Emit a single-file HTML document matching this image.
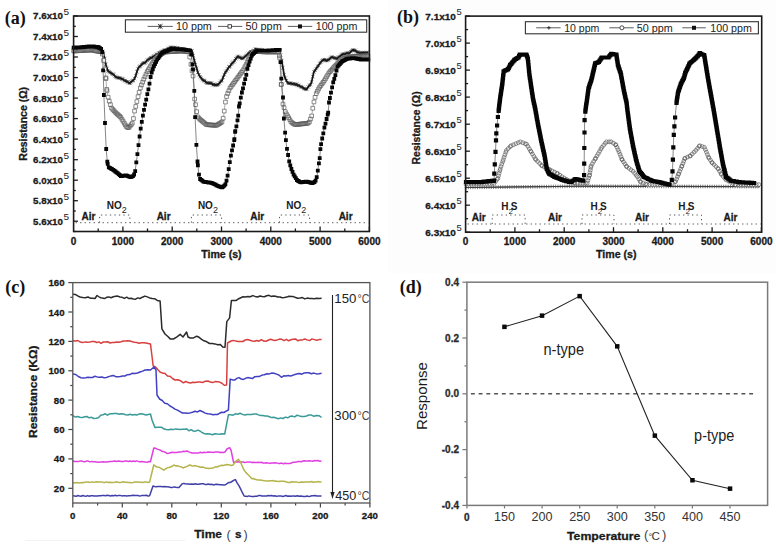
<!DOCTYPE html>
<html><head><meta charset="utf-8"><title>Figure</title>
<style>html,body{margin:0;padding:0;background:#fff;width:776px;height:547px;overflow:hidden}svg{display:block}</style>
</head><body>
<svg width="776" height="547" viewBox="0 0 776 547">
<rect width="776" height="547" fill="#fff"/>
<path d="M25 540.5H185" stroke="#f3f3f3" stroke-width="1"/>
<rect x="388" y="0" width="388" height="273" fill="#fdfdfd"/>
<rect x="465.6" y="16.1" width="296.1" height="216.1" fill="#fff"/>
<g stroke="#1a1a1a" stroke-width="1.3" fill="none">
<path d="M465.6 16.1H469.9"/>
<path d="M465.6 43.1H469.9"/>
<path d="M465.6 70.1H469.9"/>
<path d="M465.6 97.1H469.9"/>
<path d="M465.6 124.2H469.9"/>
<path d="M465.6 151.2H469.9"/>
<path d="M465.6 178.2H469.9"/>
<path d="M465.6 205.2H469.9"/>
<path d="M465.6 232.2H469.9"/>
<path d="M465.6 29.6H468.1"/>
<path d="M465.6 56.6H468.1"/>
<path d="M465.6 83.6H468.1"/>
<path d="M465.6 110.6H468.1"/>
<path d="M465.6 137.7H468.1"/>
<path d="M465.6 164.7H468.1"/>
<path d="M465.6 191.7H468.1"/>
<path d="M465.6 218.7H468.1"/>
<path d="M514.9 232.2V227.2"/>
<path d="M490.2 232.2V229.2"/>
<path d="M564.2 232.2V227.2"/>
<path d="M539.5 232.2V229.2"/>
<path d="M613.5 232.2V227.2"/>
<path d="M588.9 232.2V229.2"/>
<path d="M662.8 232.2V227.2"/>
<path d="M638.1 232.2V229.2"/>
<path d="M712.1 232.2V227.2"/>
<path d="M687.5 232.2V229.2"/>
<path d="M761.4 232.2V227.2"/>
<path d="M736.8 232.2V229.2"/>
</g>
<g stroke="#555" stroke-width="1" fill="none" stroke-dasharray="1.3 3.2">
<path d="M467.6 224H760.7"/>
<path d="M492.2 224V215H525.1V224"/>
<path d="M582 224V215H614V224"/>
<path d="M669.5 224V215H701.5V224"/>
</g>
<polyline points="466,187.5 580,186.2 760,186.6" fill="none" stroke="#2a2a2a" stroke-width="1.1" />
<path d="M466 185.7v3.6M464.7 187.5h2.6M468.3 185.7v3.6M467 187.5h2.6M470.6 185.6v3.6M469.3 187.4h2.6M472.9 185.6v3.6M471.6 187.4h2.6M475.2 185.6v3.6M473.9 187.4h2.6M477.5 185.6v3.6M476.2 187.4h2.6M479.8 185.5v3.6M478.5 187.3h2.6M482.1 185.5v3.6M480.8 187.3h2.6M484.4 185.5v3.6M483.1 187.3h2.6M486.7 185.5v3.6M485.4 187.3h2.6M489 185.4v3.6M487.7 187.2h2.6M491.3 185.4v3.6M490 187.2h2.6M493.6 185.4v3.6M492.3 187.2h2.6M495.9 185.4v3.6M494.6 187.2h2.6M498.2 185.3v3.6M496.9 187.1h2.6M500.5 185.3v3.6M499.2 187.1h2.6M502.8 185.3v3.6M501.5 187.1h2.6M505.1 185.3v3.6M503.8 187.1h2.6M507.4 185.2v3.6M506.1 187h2.6M509.7 185.2v3.6M508.4 187h2.6M512 185.2v3.6M510.7 187h2.6M514.3 185.1v3.6M513 186.9h2.6M516.6 185.1v3.6M515.3 186.9h2.6M518.9 185.1v3.6M517.6 186.9h2.6M521.2 185.1v3.6M519.9 186.9h2.6M523.5 185v3.6M522.2 186.8h2.6M525.8 185v3.6M524.5 186.8h2.6M528.1 185v3.6M526.8 186.8h2.6M530.4 185v3.6M529.1 186.8h2.6M532.7 184.9v3.6M531.4 186.7h2.6M535 184.9v3.6M533.7 186.7h2.6M537.3 184.9v3.6M536 186.7h2.6M539.6 184.9v3.6M538.3 186.7h2.6M541.9 184.8v3.6M540.6 186.6h2.6M544.2 184.8v3.6M542.9 186.6h2.6M546.5 184.8v3.6M545.2 186.6h2.6M548.8 184.8v3.6M547.5 186.6h2.6M551.1 184.7v3.6M549.8 186.5h2.6M553.4 184.7v3.6M552.1 186.5h2.6M555.7 184.7v3.6M554.4 186.5h2.6M558 184.7v3.6M556.7 186.5h2.6M560.3 184.6v3.6M559 186.4h2.6M562.6 184.6v3.6M561.3 186.4h2.6M564.9 184.6v3.6M563.6 186.4h2.6M567.2 184.5v3.6M565.9 186.3h2.6M569.5 184.5v3.6M568.2 186.3h2.6M571.8 184.5v3.6M570.5 186.3h2.6M574.1 184.5v3.6M572.8 186.3h2.6M576.4 184.4v3.6M575.1 186.2h2.6M578.7 184.4v3.6M577.4 186.2h2.6M581 184.4v3.6M579.7 186.2h2.6M583.3 184.4v3.6M582 186.2h2.6M585.6 184.4v3.6M584.3 186.2h2.6M587.9 184.4v3.6M586.6 186.2h2.6M590.2 184.4v3.6M588.9 186.2h2.6M592.5 184.4v3.6M591.2 186.2h2.6M594.8 184.4v3.6M593.5 186.2h2.6M597.1 184.4v3.6M595.8 186.2h2.6M599.4 184.4v3.6M598.1 186.2h2.6M601.7 184.4v3.6M600.4 186.2h2.6M604 184.5v3.6M602.7 186.3h2.6M606.3 184.5v3.6M605 186.3h2.6M608.6 184.5v3.6M607.3 186.3h2.6M610.9 184.5v3.6M609.6 186.3h2.6M613.2 184.5v3.6M611.9 186.3h2.6M615.5 184.5v3.6M614.2 186.3h2.6M617.8 184.5v3.6M616.5 186.3h2.6M620.1 184.5v3.6M618.8 186.3h2.6M622.4 184.5v3.6M621.1 186.3h2.6M624.7 184.5v3.6M623.4 186.3h2.6M627 184.5v3.6M625.7 186.3h2.6M629.3 184.5v3.6M628 186.3h2.6M631.6 184.5v3.6M630.3 186.3h2.6M633.9 184.5v3.6M632.6 186.3h2.6M636.2 184.5v3.6M634.9 186.3h2.6M638.5 184.5v3.6M637.2 186.3h2.6M640.8 184.5v3.6M639.5 186.3h2.6M643.1 184.5v3.6M641.8 186.3h2.6M645.4 184.5v3.6M644.1 186.3h2.6M647.7 184.6v3.6M646.4 186.4h2.6M650 184.6v3.6M648.7 186.4h2.6M652.3 184.6v3.6M651 186.4h2.6M654.6 184.6v3.6M653.3 186.4h2.6M656.9 184.6v3.6M655.6 186.4h2.6M659.2 184.6v3.6M657.9 186.4h2.6M661.5 184.6v3.6M660.2 186.4h2.6M663.8 184.6v3.6M662.5 186.4h2.6M666.1 184.6v3.6M664.8 186.4h2.6M668.4 184.6v3.6M667.1 186.4h2.6M670.7 184.6v3.6M669.4 186.4h2.6M673 184.6v3.6M671.7 186.4h2.6M675.3 184.6v3.6M674 186.4h2.6M677.6 184.6v3.6M676.3 186.4h2.6M679.9 184.6v3.6M678.6 186.4h2.6M682.2 184.6v3.6M680.9 186.4h2.6M684.5 184.6v3.6M683.2 186.4h2.6M686.8 184.6v3.6M685.5 186.4h2.6M689.1 184.6v3.6M687.8 186.4h2.6M691.4 184.6v3.6M690.1 186.4h2.6M693.7 184.7v3.6M692.4 186.5h2.6M696 184.7v3.6M694.7 186.5h2.6M698.3 184.7v3.6M697 186.5h2.6M700.6 184.7v3.6M699.3 186.5h2.6M702.9 184.7v3.6M701.6 186.5h2.6M705.2 184.7v3.6M703.9 186.5h2.6M707.5 184.7v3.6M706.2 186.5h2.6M709.8 184.7v3.6M708.5 186.5h2.6M712.1 184.7v3.6M710.8 186.5h2.6M714.4 184.7v3.6M713.1 186.5h2.6M716.7 184.7v3.6M715.4 186.5h2.6M719 184.7v3.6M717.7 186.5h2.6M721.3 184.7v3.6M720 186.5h2.6M723.6 184.7v3.6M722.3 186.5h2.6M725.9 184.7v3.6M724.6 186.5h2.6M728.2 184.7v3.6M726.9 186.5h2.6M730.5 184.7v3.6M729.2 186.5h2.6M732.8 184.7v3.6M731.5 186.5h2.6M735.1 184.7v3.6M733.8 186.5h2.6M737.4 184.7v3.6M736.1 186.5h2.6M739.7 184.8v3.6M738.4 186.6h2.6M742 184.8v3.6M740.7 186.6h2.6M744.3 184.8v3.6M743 186.6h2.6M746.6 184.8v3.6M745.3 186.6h2.6M748.9 184.8v3.6M747.6 186.6h2.6M751.2 184.8v3.6M749.9 186.6h2.6M753.5 184.8v3.6M752.2 186.6h2.6M755.8 184.8v3.6M754.5 186.6h2.6M758.1 184.8v3.6M756.8 186.6h2.6" stroke="#444" stroke-width="0.7" fill="none"/>
<polyline points="466,184 494,183.5 497.9,178.3 500.2,169 503.3,159.7 506.4,150.4 511.1,145.7 520.4,141.8 526.6,144.2 531.2,151.9 535.9,159.7 542.1,165.9 549.9,169.8 557.6,173.7 567,179.9 575,183 587.2,183 589.5,175.2 591.1,165.9 595.7,158.1 601.9,147.3 606.6,141.8 611.2,141.8 615.9,144.9 619,151.9 622.1,159.7 626.8,166.7 633,171.3 637.6,176.8 640.7,182.2 647,184.5 670,184.5 675.6,181.5 678.7,173.7 681.9,165.9 685,158.2 690.4,155.8 695.8,150.4 699.7,145.7 704.4,147.3 709,158.2 712.2,162.8 718.4,169 721.5,174.5 726.1,179.9 735.5,184.6 758.8,184.6" fill="none" stroke="#777" stroke-width="0.6" />
<path d="M464.1 184a1.9 1.9 0 1 0 3.8 0a1.9 1.9 0 1 0 -3.8 0M466.7 184a1.9 1.9 0 1 0 3.8 0a1.9 1.9 0 1 0 -3.8 0M469.3 183.9a1.9 1.9 0 1 0 3.8 0a1.9 1.9 0 1 0 -3.8 0M471.9 183.9a1.9 1.9 0 1 0 3.8 0a1.9 1.9 0 1 0 -3.8 0M474.5 183.8a1.9 1.9 0 1 0 3.8 0a1.9 1.9 0 1 0 -3.8 0M477.1 183.8a1.9 1.9 0 1 0 3.8 0a1.9 1.9 0 1 0 -3.8 0M479.7 183.7a1.9 1.9 0 1 0 3.8 0a1.9 1.9 0 1 0 -3.8 0M482.3 183.7a1.9 1.9 0 1 0 3.8 0a1.9 1.9 0 1 0 -3.8 0M484.9 183.6a1.9 1.9 0 1 0 3.8 0a1.9 1.9 0 1 0 -3.8 0M487.5 183.6a1.9 1.9 0 1 0 3.8 0a1.9 1.9 0 1 0 -3.8 0M490.1 183.5a1.9 1.9 0 1 0 3.8 0a1.9 1.9 0 1 0 -3.8 0M492.1 183.5a1.9 1.9 0 1 0 3.8 0a1.9 1.9 0 1 0 -3.8 0M493.7 181.4a1.9 1.9 0 1 0 3.8 0a1.9 1.9 0 1 0 -3.8 0M495.2 179.3a1.9 1.9 0 1 0 3.8 0a1.9 1.9 0 1 0 -3.8 0M496 178.3a1.9 1.9 0 1 0 3.8 0a1.9 1.9 0 1 0 -3.8 0M496.6 175.8a1.9 1.9 0 1 0 3.8 0a1.9 1.9 0 1 0 -3.8 0M497.2 173.3a1.9 1.9 0 1 0 3.8 0a1.9 1.9 0 1 0 -3.8 0M497.9 170.7a1.9 1.9 0 1 0 3.8 0a1.9 1.9 0 1 0 -3.8 0M498.3 169a1.9 1.9 0 1 0 3.8 0a1.9 1.9 0 1 0 -3.8 0M499.1 166.5a1.9 1.9 0 1 0 3.8 0a1.9 1.9 0 1 0 -3.8 0M499.9 164.1a1.9 1.9 0 1 0 3.8 0a1.9 1.9 0 1 0 -3.8 0M500.8 161.6a1.9 1.9 0 1 0 3.8 0a1.9 1.9 0 1 0 -3.8 0M501.4 159.7a1.9 1.9 0 1 0 3.8 0a1.9 1.9 0 1 0 -3.8 0M502.2 157.2a1.9 1.9 0 1 0 3.8 0a1.9 1.9 0 1 0 -3.8 0M503 154.8a1.9 1.9 0 1 0 3.8 0a1.9 1.9 0 1 0 -3.8 0M503.9 152.3a1.9 1.9 0 1 0 3.8 0a1.9 1.9 0 1 0 -3.8 0M504.5 150.4a1.9 1.9 0 1 0 3.8 0a1.9 1.9 0 1 0 -3.8 0M506.3 148.6a1.9 1.9 0 1 0 3.8 0a1.9 1.9 0 1 0 -3.8 0M508.2 146.7a1.9 1.9 0 1 0 3.8 0a1.9 1.9 0 1 0 -3.8 0M509.2 145.7a1.9 1.9 0 1 0 3.8 0a1.9 1.9 0 1 0 -3.8 0M511.6 144.7a1.9 1.9 0 1 0 3.8 0a1.9 1.9 0 1 0 -3.8 0M514 143.7a1.9 1.9 0 1 0 3.8 0a1.9 1.9 0 1 0 -3.8 0M516.4 142.7a1.9 1.9 0 1 0 3.8 0a1.9 1.9 0 1 0 -3.8 0M518.5 141.8a1.9 1.9 0 1 0 3.8 0a1.9 1.9 0 1 0 -3.8 0M520.9 142.7a1.9 1.9 0 1 0 3.8 0a1.9 1.9 0 1 0 -3.8 0M523.3 143.7a1.9 1.9 0 1 0 3.8 0a1.9 1.9 0 1 0 -3.8 0M524.7 144.2a1.9 1.9 0 1 0 3.8 0a1.9 1.9 0 1 0 -3.8 0M526 146.4a1.9 1.9 0 1 0 3.8 0a1.9 1.9 0 1 0 -3.8 0M527.4 148.7a1.9 1.9 0 1 0 3.8 0a1.9 1.9 0 1 0 -3.8 0M528.7 150.9a1.9 1.9 0 1 0 3.8 0a1.9 1.9 0 1 0 -3.8 0M529.3 151.9a1.9 1.9 0 1 0 3.8 0a1.9 1.9 0 1 0 -3.8 0M530.6 154.1a1.9 1.9 0 1 0 3.8 0a1.9 1.9 0 1 0 -3.8 0M532 156.4a1.9 1.9 0 1 0 3.8 0a1.9 1.9 0 1 0 -3.8 0M533.3 158.6a1.9 1.9 0 1 0 3.8 0a1.9 1.9 0 1 0 -3.8 0M534 159.7a1.9 1.9 0 1 0 3.8 0a1.9 1.9 0 1 0 -3.8 0M535.8 161.5a1.9 1.9 0 1 0 3.8 0a1.9 1.9 0 1 0 -3.8 0M537.7 163.4a1.9 1.9 0 1 0 3.8 0a1.9 1.9 0 1 0 -3.8 0M539.5 165.2a1.9 1.9 0 1 0 3.8 0a1.9 1.9 0 1 0 -3.8 0M540.2 165.9a1.9 1.9 0 1 0 3.8 0a1.9 1.9 0 1 0 -3.8 0M542.5 167.1a1.9 1.9 0 1 0 3.8 0a1.9 1.9 0 1 0 -3.8 0M544.9 168.2a1.9 1.9 0 1 0 3.8 0a1.9 1.9 0 1 0 -3.8 0M547.2 169.4a1.9 1.9 0 1 0 3.8 0a1.9 1.9 0 1 0 -3.8 0M548 169.8a1.9 1.9 0 1 0 3.8 0a1.9 1.9 0 1 0 -3.8 0M550.3 171a1.9 1.9 0 1 0 3.8 0a1.9 1.9 0 1 0 -3.8 0M552.6 172.1a1.9 1.9 0 1 0 3.8 0a1.9 1.9 0 1 0 -3.8 0M555 173.3a1.9 1.9 0 1 0 3.8 0a1.9 1.9 0 1 0 -3.8 0M555.7 173.7a1.9 1.9 0 1 0 3.8 0a1.9 1.9 0 1 0 -3.8 0M557.9 175.1a1.9 1.9 0 1 0 3.8 0a1.9 1.9 0 1 0 -3.8 0M560 176.6a1.9 1.9 0 1 0 3.8 0a1.9 1.9 0 1 0 -3.8 0M562.2 178a1.9 1.9 0 1 0 3.8 0a1.9 1.9 0 1 0 -3.8 0M564.4 179.4a1.9 1.9 0 1 0 3.8 0a1.9 1.9 0 1 0 -3.8 0M565.1 179.9a1.9 1.9 0 1 0 3.8 0a1.9 1.9 0 1 0 -3.8 0M567.5 180.8a1.9 1.9 0 1 0 3.8 0a1.9 1.9 0 1 0 -3.8 0M569.9 181.8a1.9 1.9 0 1 0 3.8 0a1.9 1.9 0 1 0 -3.8 0M572.4 182.7a1.9 1.9 0 1 0 3.8 0a1.9 1.9 0 1 0 -3.8 0M573.1 183a1.9 1.9 0 1 0 3.8 0a1.9 1.9 0 1 0 -3.8 0M575.7 183a1.9 1.9 0 1 0 3.8 0a1.9 1.9 0 1 0 -3.8 0M578.3 183a1.9 1.9 0 1 0 3.8 0a1.9 1.9 0 1 0 -3.8 0M580.9 183a1.9 1.9 0 1 0 3.8 0a1.9 1.9 0 1 0 -3.8 0M583.5 183a1.9 1.9 0 1 0 3.8 0a1.9 1.9 0 1 0 -3.8 0M585.3 183a1.9 1.9 0 1 0 3.8 0a1.9 1.9 0 1 0 -3.8 0M586 180.5a1.9 1.9 0 1 0 3.8 0a1.9 1.9 0 1 0 -3.8 0M586.8 178a1.9 1.9 0 1 0 3.8 0a1.9 1.9 0 1 0 -3.8 0M587.5 175.5a1.9 1.9 0 1 0 3.8 0a1.9 1.9 0 1 0 -3.8 0M587.6 175.2a1.9 1.9 0 1 0 3.8 0a1.9 1.9 0 1 0 -3.8 0M588 172.6a1.9 1.9 0 1 0 3.8 0a1.9 1.9 0 1 0 -3.8 0M588.5 170.1a1.9 1.9 0 1 0 3.8 0a1.9 1.9 0 1 0 -3.8 0M588.9 167.5a1.9 1.9 0 1 0 3.8 0a1.9 1.9 0 1 0 -3.8 0M589.2 165.9a1.9 1.9 0 1 0 3.8 0a1.9 1.9 0 1 0 -3.8 0M590.5 163.7a1.9 1.9 0 1 0 3.8 0a1.9 1.9 0 1 0 -3.8 0M591.8 161.4a1.9 1.9 0 1 0 3.8 0a1.9 1.9 0 1 0 -3.8 0M593.2 159.2a1.9 1.9 0 1 0 3.8 0a1.9 1.9 0 1 0 -3.8 0M593.8 158.1a1.9 1.9 0 1 0 3.8 0a1.9 1.9 0 1 0 -3.8 0M595.1 155.8a1.9 1.9 0 1 0 3.8 0a1.9 1.9 0 1 0 -3.8 0M596.4 153.6a1.9 1.9 0 1 0 3.8 0a1.9 1.9 0 1 0 -3.8 0M597.7 151.3a1.9 1.9 0 1 0 3.8 0a1.9 1.9 0 1 0 -3.8 0M599 149.1a1.9 1.9 0 1 0 3.8 0a1.9 1.9 0 1 0 -3.8 0M600 147.3a1.9 1.9 0 1 0 3.8 0a1.9 1.9 0 1 0 -3.8 0M601.7 145.3a1.9 1.9 0 1 0 3.8 0a1.9 1.9 0 1 0 -3.8 0M603.4 143.3a1.9 1.9 0 1 0 3.8 0a1.9 1.9 0 1 0 -3.8 0M604.7 141.8a1.9 1.9 0 1 0 3.8 0a1.9 1.9 0 1 0 -3.8 0M607.3 141.8a1.9 1.9 0 1 0 3.8 0a1.9 1.9 0 1 0 -3.8 0M609.3 141.8a1.9 1.9 0 1 0 3.8 0a1.9 1.9 0 1 0 -3.8 0M611.5 143.2a1.9 1.9 0 1 0 3.8 0a1.9 1.9 0 1 0 -3.8 0M613.6 144.7a1.9 1.9 0 1 0 3.8 0a1.9 1.9 0 1 0 -3.8 0M614 144.9a1.9 1.9 0 1 0 3.8 0a1.9 1.9 0 1 0 -3.8 0M615.1 147.3a1.9 1.9 0 1 0 3.8 0a1.9 1.9 0 1 0 -3.8 0M616.1 149.7a1.9 1.9 0 1 0 3.8 0a1.9 1.9 0 1 0 -3.8 0M617.1 151.9a1.9 1.9 0 1 0 3.8 0a1.9 1.9 0 1 0 -3.8 0M618.1 154.3a1.9 1.9 0 1 0 3.8 0a1.9 1.9 0 1 0 -3.8 0M619 156.7a1.9 1.9 0 1 0 3.8 0a1.9 1.9 0 1 0 -3.8 0M620 159.1a1.9 1.9 0 1 0 3.8 0a1.9 1.9 0 1 0 -3.8 0M620.2 159.7a1.9 1.9 0 1 0 3.8 0a1.9 1.9 0 1 0 -3.8 0M621.6 161.9a1.9 1.9 0 1 0 3.8 0a1.9 1.9 0 1 0 -3.8 0M623.1 164a1.9 1.9 0 1 0 3.8 0a1.9 1.9 0 1 0 -3.8 0M624.5 166.2a1.9 1.9 0 1 0 3.8 0a1.9 1.9 0 1 0 -3.8 0M624.9 166.7a1.9 1.9 0 1 0 3.8 0a1.9 1.9 0 1 0 -3.8 0M627 168.2a1.9 1.9 0 1 0 3.8 0a1.9 1.9 0 1 0 -3.8 0M629.1 169.8a1.9 1.9 0 1 0 3.8 0a1.9 1.9 0 1 0 -3.8 0M631.1 171.3a1.9 1.9 0 1 0 3.8 0a1.9 1.9 0 1 0 -3.8 0M632.8 173.3a1.9 1.9 0 1 0 3.8 0a1.9 1.9 0 1 0 -3.8 0M634.4 175.3a1.9 1.9 0 1 0 3.8 0a1.9 1.9 0 1 0 -3.8 0M635.7 176.8a1.9 1.9 0 1 0 3.8 0a1.9 1.9 0 1 0 -3.8 0M637 179.1a1.9 1.9 0 1 0 3.8 0a1.9 1.9 0 1 0 -3.8 0M638.3 181.3a1.9 1.9 0 1 0 3.8 0a1.9 1.9 0 1 0 -3.8 0M638.8 182.2a1.9 1.9 0 1 0 3.8 0a1.9 1.9 0 1 0 -3.8 0M641.2 183.1a1.9 1.9 0 1 0 3.8 0a1.9 1.9 0 1 0 -3.8 0M643.7 184a1.9 1.9 0 1 0 3.8 0a1.9 1.9 0 1 0 -3.8 0M645.1 184.5a1.9 1.9 0 1 0 3.8 0a1.9 1.9 0 1 0 -3.8 0M647.7 184.5a1.9 1.9 0 1 0 3.8 0a1.9 1.9 0 1 0 -3.8 0M650.3 184.5a1.9 1.9 0 1 0 3.8 0a1.9 1.9 0 1 0 -3.8 0M652.9 184.5a1.9 1.9 0 1 0 3.8 0a1.9 1.9 0 1 0 -3.8 0M655.5 184.5a1.9 1.9 0 1 0 3.8 0a1.9 1.9 0 1 0 -3.8 0M658.1 184.5a1.9 1.9 0 1 0 3.8 0a1.9 1.9 0 1 0 -3.8 0M660.7 184.5a1.9 1.9 0 1 0 3.8 0a1.9 1.9 0 1 0 -3.8 0M663.3 184.5a1.9 1.9 0 1 0 3.8 0a1.9 1.9 0 1 0 -3.8 0M665.9 184.5a1.9 1.9 0 1 0 3.8 0a1.9 1.9 0 1 0 -3.8 0M668.1 184.5a1.9 1.9 0 1 0 3.8 0a1.9 1.9 0 1 0 -3.8 0M670.4 183.3a1.9 1.9 0 1 0 3.8 0a1.9 1.9 0 1 0 -3.8 0M672.7 182a1.9 1.9 0 1 0 3.8 0a1.9 1.9 0 1 0 -3.8 0M673.7 181.5a1.9 1.9 0 1 0 3.8 0a1.9 1.9 0 1 0 -3.8 0M674.7 179.1a1.9 1.9 0 1 0 3.8 0a1.9 1.9 0 1 0 -3.8 0M675.6 176.7a1.9 1.9 0 1 0 3.8 0a1.9 1.9 0 1 0 -3.8 0M676.6 174.3a1.9 1.9 0 1 0 3.8 0a1.9 1.9 0 1 0 -3.8 0M676.8 173.7a1.9 1.9 0 1 0 3.8 0a1.9 1.9 0 1 0 -3.8 0M677.8 171.3a1.9 1.9 0 1 0 3.8 0a1.9 1.9 0 1 0 -3.8 0M678.8 168.9a1.9 1.9 0 1 0 3.8 0a1.9 1.9 0 1 0 -3.8 0M679.8 166.5a1.9 1.9 0 1 0 3.8 0a1.9 1.9 0 1 0 -3.8 0M680 165.9a1.9 1.9 0 1 0 3.8 0a1.9 1.9 0 1 0 -3.8 0M681 163.5a1.9 1.9 0 1 0 3.8 0a1.9 1.9 0 1 0 -3.8 0M681.9 161.1a1.9 1.9 0 1 0 3.8 0a1.9 1.9 0 1 0 -3.8 0M682.9 158.7a1.9 1.9 0 1 0 3.8 0a1.9 1.9 0 1 0 -3.8 0M683.1 158.2a1.9 1.9 0 1 0 3.8 0a1.9 1.9 0 1 0 -3.8 0M685.5 157.1a1.9 1.9 0 1 0 3.8 0a1.9 1.9 0 1 0 -3.8 0M687.9 156.1a1.9 1.9 0 1 0 3.8 0a1.9 1.9 0 1 0 -3.8 0M688.5 155.8a1.9 1.9 0 1 0 3.8 0a1.9 1.9 0 1 0 -3.8 0M690.3 154a1.9 1.9 0 1 0 3.8 0a1.9 1.9 0 1 0 -3.8 0M692.2 152.1a1.9 1.9 0 1 0 3.8 0a1.9 1.9 0 1 0 -3.8 0M693.9 150.4a1.9 1.9 0 1 0 3.8 0a1.9 1.9 0 1 0 -3.8 0M695.6 148.4a1.9 1.9 0 1 0 3.8 0a1.9 1.9 0 1 0 -3.8 0M697.2 146.4a1.9 1.9 0 1 0 3.8 0a1.9 1.9 0 1 0 -3.8 0M697.8 145.7a1.9 1.9 0 1 0 3.8 0a1.9 1.9 0 1 0 -3.8 0M700.3 146.5a1.9 1.9 0 1 0 3.8 0a1.9 1.9 0 1 0 -3.8 0M702.5 147.3a1.9 1.9 0 1 0 3.8 0a1.9 1.9 0 1 0 -3.8 0M703.5 149.7a1.9 1.9 0 1 0 3.8 0a1.9 1.9 0 1 0 -3.8 0M704.5 152.1a1.9 1.9 0 1 0 3.8 0a1.9 1.9 0 1 0 -3.8 0M705.5 154.5a1.9 1.9 0 1 0 3.8 0a1.9 1.9 0 1 0 -3.8 0M706.5 156.9a1.9 1.9 0 1 0 3.8 0a1.9 1.9 0 1 0 -3.8 0M707.1 158.2a1.9 1.9 0 1 0 3.8 0a1.9 1.9 0 1 0 -3.8 0M708.6 160.3a1.9 1.9 0 1 0 3.8 0a1.9 1.9 0 1 0 -3.8 0M710.1 162.5a1.9 1.9 0 1 0 3.8 0a1.9 1.9 0 1 0 -3.8 0M710.3 162.8a1.9 1.9 0 1 0 3.8 0a1.9 1.9 0 1 0 -3.8 0M712.1 164.6a1.9 1.9 0 1 0 3.8 0a1.9 1.9 0 1 0 -3.8 0M714 166.5a1.9 1.9 0 1 0 3.8 0a1.9 1.9 0 1 0 -3.8 0M715.8 168.3a1.9 1.9 0 1 0 3.8 0a1.9 1.9 0 1 0 -3.8 0M716.5 169a1.9 1.9 0 1 0 3.8 0a1.9 1.9 0 1 0 -3.8 0M717.8 171.3a1.9 1.9 0 1 0 3.8 0a1.9 1.9 0 1 0 -3.8 0M719.1 173.5a1.9 1.9 0 1 0 3.8 0a1.9 1.9 0 1 0 -3.8 0M719.6 174.5a1.9 1.9 0 1 0 3.8 0a1.9 1.9 0 1 0 -3.8 0M721.3 176.5a1.9 1.9 0 1 0 3.8 0a1.9 1.9 0 1 0 -3.8 0M723 178.5a1.9 1.9 0 1 0 3.8 0a1.9 1.9 0 1 0 -3.8 0M724.2 179.9a1.9 1.9 0 1 0 3.8 0a1.9 1.9 0 1 0 -3.8 0M726.5 181.1a1.9 1.9 0 1 0 3.8 0a1.9 1.9 0 1 0 -3.8 0M728.9 182.2a1.9 1.9 0 1 0 3.8 0a1.9 1.9 0 1 0 -3.8 0M731.2 183.4a1.9 1.9 0 1 0 3.8 0a1.9 1.9 0 1 0 -3.8 0M733.5 184.6a1.9 1.9 0 1 0 3.8 0a1.9 1.9 0 1 0 -3.8 0M733.6 184.6a1.9 1.9 0 1 0 3.8 0a1.9 1.9 0 1 0 -3.8 0M736.2 184.6a1.9 1.9 0 1 0 3.8 0a1.9 1.9 0 1 0 -3.8 0M738.8 184.6a1.9 1.9 0 1 0 3.8 0a1.9 1.9 0 1 0 -3.8 0M741.4 184.6a1.9 1.9 0 1 0 3.8 0a1.9 1.9 0 1 0 -3.8 0M744 184.6a1.9 1.9 0 1 0 3.8 0a1.9 1.9 0 1 0 -3.8 0M746.6 184.6a1.9 1.9 0 1 0 3.8 0a1.9 1.9 0 1 0 -3.8 0M749.2 184.6a1.9 1.9 0 1 0 3.8 0a1.9 1.9 0 1 0 -3.8 0M751.8 184.6a1.9 1.9 0 1 0 3.8 0a1.9 1.9 0 1 0 -3.8 0M754.4 184.6a1.9 1.9 0 1 0 3.8 0a1.9 1.9 0 1 0 -3.8 0M756.9 184.6a1.9 1.9 0 1 0 3.8 0a1.9 1.9 0 1 0 -3.8 0" stroke="#555" stroke-width="0.65" fill="#fff"/>
<polyline points="466,182 480,182.2 494,180.7 494.3,173.7 494.8,164.3 495.5,151.9 496,140.3 496.3,133.3 497.1,125.5 497.9,117 498.6,110.8 500.1,98.5 502.3,83.9 503.7,71.4 508.1,69.2 510.3,64.9 514.7,59.7 518.4,57.5 519.8,54.6 526.4,54.6 527.9,59 529.3,73.6 530.8,83.9 533,98.5 535.2,108.7 538.2,125.5 541.3,141 544.4,155 546.8,169 549.1,173.7 554.5,176.8 562.3,179.9 564.7,180.7 570.9,182.2 575.5,179.1 583.3,180.7 584.1,175.2 584.2,163.6 584.3,148 584.5,132.5 584.6,120.1 585.3,111.6 588.6,88.2 591.5,79.5 595.2,63.4 598.9,61.9 601.8,57.5 608.4,57.5 611.3,53.9 616.4,54.6 617.9,64.9 620.8,73.6 623.7,89.7 626.6,102.9 627.4,110 629.9,128.6 633,145.7 636.1,159.7 639.2,170.6 643.9,176.8 651.6,180.7 659.4,182.2 669.4,184.6 671.8,179.9 672.5,171.4 672.9,159.7 673.3,147.3 673.8,134.9 674.4,126.3 675.1,117.5 676.5,102.9 678,92.6 680.9,83.9 683.9,78 685.3,72.9 689.7,63.4 694.1,59.7 697.7,56.1 699.9,53.2 704.3,55.4 706.5,69.2 708.7,82.4 711.6,98.5 713.7,110 716.8,128.6 719.9,147.3 723,164.4 726.1,176.8 730.8,180.7 740.1,182.3 754.1,183" fill="none" stroke="#555" stroke-width="0.7" />
<path d="M463.9 179.9h4.2v4.2h-4.2zM465.4 179.9h4.2v4.2h-4.2zM466.9 179.9h4.2v4.2h-4.2zM468.4 180h4.2v4.2h-4.2zM469.9 180h4.2v4.2h-4.2zM471.4 180h4.2v4.2h-4.2zM472.9 180h4.2v4.2h-4.2zM474.4 180h4.2v4.2h-4.2zM475.9 180.1h4.2v4.2h-4.2zM477.4 180.1h4.2v4.2h-4.2zM477.9 180.1h4.2v4.2h-4.2zM479.4 179.9h4.2v4.2h-4.2zM480.9 179.8h4.2v4.2h-4.2zM482.4 179.6h4.2v4.2h-4.2zM483.9 179.5h4.2v4.2h-4.2zM485.4 179.3h4.2v4.2h-4.2zM486.8 179.1h4.2v4.2h-4.2zM488.3 179h4.2v4.2h-4.2zM489.8 178.8h4.2v4.2h-4.2zM491.3 178.7h4.2v4.2h-4.2zM491.9 178.6h4.2v4.2h-4.2zM492.2 171.6h4.2v4.2h-4.2zM492.7 162.2h4.2v4.2h-4.2zM493.4 149.8h4.2v4.2h-4.2zM493.9 138.2h4.2v4.2h-4.2zM494.2 131.2h4.2v4.2h-4.2zM495 123.4h4.2v4.2h-4.2zM495.8 114.9h4.2v4.2h-4.2zM496.5 108.7h4.2v4.2h-4.2zM496.7 107.2h4.2v4.2h-4.2zM496.9 105.7h4.2v4.2h-4.2zM497 104.2h4.2v4.2h-4.2zM497.2 102.7h4.2v4.2h-4.2zM497.4 101.3h4.2v4.2h-4.2zM497.6 99.8h4.2v4.2h-4.2zM497.8 98.3h4.2v4.2h-4.2zM498 96.8h4.2v4.2h-4.2zM498 96.4h4.2v4.2h-4.2zM498.2 94.9h4.2v4.2h-4.2zM498.4 93.4h4.2v4.2h-4.2zM498.7 92h4.2v4.2h-4.2zM498.9 90.5h4.2v4.2h-4.2zM499.1 89h4.2v4.2h-4.2zM499.3 87.5h4.2v4.2h-4.2zM499.6 86h4.2v4.2h-4.2zM499.8 84.5h4.2v4.2h-4.2zM500 83.1h4.2v4.2h-4.2zM500.2 81.8h4.2v4.2h-4.2zM500.4 80.3h4.2v4.2h-4.2zM500.5 78.8h4.2v4.2h-4.2zM500.7 77.3h4.2v4.2h-4.2zM500.9 75.8h4.2v4.2h-4.2zM501 74.3h4.2v4.2h-4.2zM501.2 72.9h4.2v4.2h-4.2zM501.4 71.4h4.2v4.2h-4.2zM501.5 69.9h4.2v4.2h-4.2zM501.6 69.3h4.2v4.2h-4.2zM502.9 68.6h4.2v4.2h-4.2zM504.3 68h4.2v4.2h-4.2zM505.6 67.3h4.2v4.2h-4.2zM506 67.1h4.2v4.2h-4.2zM506.7 65.8h4.2v4.2h-4.2zM507.4 64.4h4.2v4.2h-4.2zM508 63.1h4.2v4.2h-4.2zM508.2 62.8h4.2v4.2h-4.2zM509.2 61.7h4.2v4.2h-4.2zM510.1 60.5h4.2v4.2h-4.2zM511.1 59.4h4.2v4.2h-4.2zM512.1 58.2h4.2v4.2h-4.2zM512.6 57.6h4.2v4.2h-4.2zM513.9 56.8h4.2v4.2h-4.2zM515.2 56.1h4.2v4.2h-4.2zM516.3 55.4h4.2v4.2h-4.2zM517 54h4.2v4.2h-4.2zM517.6 52.7h4.2v4.2h-4.2zM517.7 52.5h4.2v4.2h-4.2zM519.2 52.5h4.2v4.2h-4.2zM520.7 52.5h4.2v4.2h-4.2zM522.2 52.5h4.2v4.2h-4.2zM523.7 52.5h4.2v4.2h-4.2zM524.3 52.5h4.2v4.2h-4.2zM524.8 53.9h4.2v4.2h-4.2zM525.3 55.3h4.2v4.2h-4.2zM525.8 56.8h4.2v4.2h-4.2zM525.8 56.9h4.2v4.2h-4.2zM525.9 58.4h4.2v4.2h-4.2zM526.1 59.9h4.2v4.2h-4.2zM526.2 61.4h4.2v4.2h-4.2zM526.4 62.9h4.2v4.2h-4.2zM526.5 64.4h4.2v4.2h-4.2zM526.7 65.9h4.2v4.2h-4.2zM526.8 67.4h4.2v4.2h-4.2zM526.9 68.8h4.2v4.2h-4.2zM527.1 70.3h4.2v4.2h-4.2zM527.2 71.5h4.2v4.2h-4.2zM527.4 73h4.2v4.2h-4.2zM527.6 74.5h4.2v4.2h-4.2zM527.8 76h4.2v4.2h-4.2zM528.1 77.4h4.2v4.2h-4.2zM528.3 78.9h4.2v4.2h-4.2zM528.5 80.4h4.2v4.2h-4.2zM528.7 81.8h4.2v4.2h-4.2zM528.9 83.3h4.2v4.2h-4.2zM529.1 84.8h4.2v4.2h-4.2zM529.4 86.2h4.2v4.2h-4.2zM529.6 87.7h4.2v4.2h-4.2zM529.8 89.2h4.2v4.2h-4.2zM530 90.7h4.2v4.2h-4.2zM530.3 92.2h4.2v4.2h-4.2zM530.5 93.7h4.2v4.2h-4.2zM530.7 95.1h4.2v4.2h-4.2zM530.9 96.4h4.2v4.2h-4.2zM531.2 97.9h4.2v4.2h-4.2zM531.5 99.3h4.2v4.2h-4.2zM531.8 100.8h4.2v4.2h-4.2zM532.2 102.3h4.2v4.2h-4.2zM532.5 103.7h4.2v4.2h-4.2zM532.8 105.2h4.2v4.2h-4.2zM533.1 106.6h4.2v4.2h-4.2zM533.4 108.1h4.2v4.2h-4.2zM533.6 109.6h4.2v4.2h-4.2zM533.9 111h4.2v4.2h-4.2zM534.2 112.5h4.2v4.2h-4.2zM534.4 114h4.2v4.2h-4.2zM534.7 115.5h4.2v4.2h-4.2zM534.9 116.9h4.2v4.2h-4.2zM535.2 118.4h4.2v4.2h-4.2zM535.5 119.9h4.2v4.2h-4.2zM535.7 121.4h4.2v4.2h-4.2zM536 122.8h4.2v4.2h-4.2zM536.1 123.4h4.2v4.2h-4.2zM536.4 124.9h4.2v4.2h-4.2zM536.7 126.3h4.2v4.2h-4.2zM537 127.8h4.2v4.2h-4.2zM537.3 129.3h4.2v4.2h-4.2zM537.6 130.8h4.2v4.2h-4.2zM537.9 132.2h4.2v4.2h-4.2zM538.2 133.7h4.2v4.2h-4.2zM538.5 135.2h4.2v4.2h-4.2zM538.7 136.6h4.2v4.2h-4.2zM539 138.1h4.2v4.2h-4.2zM539.2 138.9h4.2v4.2h-4.2zM539.5 140.4h4.2v4.2h-4.2zM539.8 141.8h4.2v4.2h-4.2zM540.2 143.3h4.2v4.2h-4.2zM540.5 144.8h4.2v4.2h-4.2zM540.8 146.2h4.2v4.2h-4.2zM541.1 147.7h4.2v4.2h-4.2zM541.5 149.2h4.2v4.2h-4.2zM541.8 150.6h4.2v4.2h-4.2zM542.1 152.1h4.2v4.2h-4.2zM542.3 152.9h4.2v4.2h-4.2zM542.6 154.4h4.2v4.2h-4.2zM542.8 155.9h4.2v4.2h-4.2zM543.1 157.3h4.2v4.2h-4.2zM543.3 158.8h4.2v4.2h-4.2zM543.6 160.3h4.2v4.2h-4.2zM543.8 161.8h4.2v4.2h-4.2zM544.1 163.2h4.2v4.2h-4.2zM544.3 164.7h4.2v4.2h-4.2zM544.6 166.2h4.2v4.2h-4.2zM544.7 166.9h4.2v4.2h-4.2zM545.4 168.2h4.2v4.2h-4.2zM546 169.6h4.2v4.2h-4.2zM546.7 170.9h4.2v4.2h-4.2zM547 171.6h4.2v4.2h-4.2zM548.3 172.3h4.2v4.2h-4.2zM549.6 173.1h4.2v4.2h-4.2zM550.9 173.8h4.2v4.2h-4.2zM552.2 174.6h4.2v4.2h-4.2zM552.4 174.7h4.2v4.2h-4.2zM553.8 175.3h4.2v4.2h-4.2zM555.2 175.8h4.2v4.2h-4.2zM556.6 176.4h4.2v4.2h-4.2zM558 176.9h4.2v4.2h-4.2zM559.4 177.5h4.2v4.2h-4.2zM560.2 177.8h4.2v4.2h-4.2zM561.6 178.3h4.2v4.2h-4.2zM562.6 178.6h4.2v4.2h-4.2zM564.1 179h4.2v4.2h-4.2zM565.5 179.3h4.2v4.2h-4.2zM567 179.7h4.2v4.2h-4.2zM568.4 180h4.2v4.2h-4.2zM568.8 180.1h4.2v4.2h-4.2zM570 179.3h4.2v4.2h-4.2zM571.3 178.4h4.2v4.2h-4.2zM572.5 177.6h4.2v4.2h-4.2zM573.4 177h4.2v4.2h-4.2zM574.9 177.3h4.2v4.2h-4.2zM576.3 177.6h4.2v4.2h-4.2zM577.8 177.9h4.2v4.2h-4.2zM579.3 178.2h4.2v4.2h-4.2zM580.7 178.5h4.2v4.2h-4.2zM581.2 178.6h4.2v4.2h-4.2zM582 173.1h4.2v4.2h-4.2zM582.1 161.5h4.2v4.2h-4.2zM582.2 145.9h4.2v4.2h-4.2zM582.4 130.4h4.2v4.2h-4.2zM582.5 118h4.2v4.2h-4.2zM583.2 109.5h4.2v4.2h-4.2zM583.4 108h4.2v4.2h-4.2zM583.6 106.5h4.2v4.2h-4.2zM583.8 105h4.2v4.2h-4.2zM584 103.6h4.2v4.2h-4.2zM584.2 102.1h4.2v4.2h-4.2zM584.5 100.6h4.2v4.2h-4.2zM584.7 99.1h4.2v4.2h-4.2zM584.9 97.6h4.2v4.2h-4.2zM585.1 96.1h4.2v4.2h-4.2zM585.3 94.6h4.2v4.2h-4.2zM585.5 93.2h4.2v4.2h-4.2zM585.7 91.7h4.2v4.2h-4.2zM585.9 90.2h4.2v4.2h-4.2zM586.1 88.7h4.2v4.2h-4.2zM586.3 87.2h4.2v4.2h-4.2zM586.5 86.1h4.2v4.2h-4.2zM587 84.7h4.2v4.2h-4.2zM587.4 83.3h4.2v4.2h-4.2zM587.9 81.8h4.2v4.2h-4.2zM588.4 80.4h4.2v4.2h-4.2zM588.9 79h4.2v4.2h-4.2zM589.3 77.6h4.2v4.2h-4.2zM589.4 77.4h4.2v4.2h-4.2zM589.7 75.9h4.2v4.2h-4.2zM590.1 74.5h4.2v4.2h-4.2zM590.4 73h4.2v4.2h-4.2zM590.7 71.6h4.2v4.2h-4.2zM591.1 70.1h4.2v4.2h-4.2zM591.4 68.6h4.2v4.2h-4.2zM591.8 67.2h4.2v4.2h-4.2zM592.1 65.7h4.2v4.2h-4.2zM592.4 64.2h4.2v4.2h-4.2zM592.8 62.8h4.2v4.2h-4.2zM593.1 61.3h4.2v4.2h-4.2zM593.1 61.3h4.2v4.2h-4.2zM594.5 60.7h4.2v4.2h-4.2zM595.9 60.2h4.2v4.2h-4.2zM596.8 59.8h4.2v4.2h-4.2zM597.6 58.5h4.2v4.2h-4.2zM598.5 57.3h4.2v4.2h-4.2zM599.3 56h4.2v4.2h-4.2zM599.7 55.4h4.2v4.2h-4.2zM601.2 55.4h4.2v4.2h-4.2zM602.7 55.4h4.2v4.2h-4.2zM604.2 55.4h4.2v4.2h-4.2zM605.7 55.4h4.2v4.2h-4.2zM606.3 55.4h4.2v4.2h-4.2zM607.2 54.2h4.2v4.2h-4.2zM608.2 53.1h4.2v4.2h-4.2zM609.1 51.9h4.2v4.2h-4.2zM609.2 51.8h4.2v4.2h-4.2zM610.7 52h4.2v4.2h-4.2zM612.2 52.2h4.2v4.2h-4.2zM613.7 52.4h4.2v4.2h-4.2zM614.3 52.5h4.2v4.2h-4.2zM614.5 54h4.2v4.2h-4.2zM614.7 55.5h4.2v4.2h-4.2zM614.9 57h4.2v4.2h-4.2zM615.2 58.4h4.2v4.2h-4.2zM615.4 59.9h4.2v4.2h-4.2zM615.6 61.4h4.2v4.2h-4.2zM615.8 62.8h4.2v4.2h-4.2zM616.3 64.2h4.2v4.2h-4.2zM616.7 65.6h4.2v4.2h-4.2zM617.2 67.1h4.2v4.2h-4.2zM617.7 68.5h4.2v4.2h-4.2zM618.2 69.9h4.2v4.2h-4.2zM618.6 71.3h4.2v4.2h-4.2zM618.7 71.5h4.2v4.2h-4.2zM619 73h4.2v4.2h-4.2zM619.2 74.5h4.2v4.2h-4.2zM619.5 75.9h4.2v4.2h-4.2zM619.8 77.4h4.2v4.2h-4.2zM620 78.9h4.2v4.2h-4.2zM620.3 80.4h4.2v4.2h-4.2zM620.6 81.8h4.2v4.2h-4.2zM620.8 83.3h4.2v4.2h-4.2zM621.1 84.8h4.2v4.2h-4.2zM621.4 86.3h4.2v4.2h-4.2zM621.6 87.6h4.2v4.2h-4.2zM621.9 89.1h4.2v4.2h-4.2zM622.2 90.5h4.2v4.2h-4.2zM622.6 92h4.2v4.2h-4.2zM622.9 93.5h4.2v4.2h-4.2zM623.2 94.9h4.2v4.2h-4.2zM623.5 96.4h4.2v4.2h-4.2zM623.9 97.9h4.2v4.2h-4.2zM624.2 99.3h4.2v4.2h-4.2zM624.5 100.8h4.2v4.2h-4.2zM624.5 100.8h4.2v4.2h-4.2zM624.7 102.3h4.2v4.2h-4.2zM624.8 103.8h4.2v4.2h-4.2zM625 105.3h4.2v4.2h-4.2zM625.2 106.8h4.2v4.2h-4.2zM625.3 107.9h4.2v4.2h-4.2zM625.5 109.4h4.2v4.2h-4.2zM625.7 110.9h4.2v4.2h-4.2zM625.9 112.4h4.2v4.2h-4.2zM626.1 113.8h4.2v4.2h-4.2zM626.3 115.3h4.2v4.2h-4.2zM626.5 116.8h4.2v4.2h-4.2zM626.7 118.3h4.2v4.2h-4.2zM626.9 119.8h4.2v4.2h-4.2zM627.1 121.3h4.2v4.2h-4.2zM627.3 122.8h4.2v4.2h-4.2zM627.5 124.3h4.2v4.2h-4.2zM627.7 125.7h4.2v4.2h-4.2zM627.8 126.5h4.2v4.2h-4.2zM628.1 128h4.2v4.2h-4.2zM628.3 129.5h4.2v4.2h-4.2zM628.6 130.9h4.2v4.2h-4.2zM628.9 132.4h4.2v4.2h-4.2zM629.1 133.9h4.2v4.2h-4.2zM629.4 135.4h4.2v4.2h-4.2zM629.7 136.8h4.2v4.2h-4.2zM629.9 138.3h4.2v4.2h-4.2zM630.2 139.8h4.2v4.2h-4.2zM630.5 141.3h4.2v4.2h-4.2zM630.7 142.7h4.2v4.2h-4.2zM630.9 143.6h4.2v4.2h-4.2zM631.2 145.1h4.2v4.2h-4.2zM631.5 146.5h4.2v4.2h-4.2zM631.9 148h4.2v4.2h-4.2zM632.2 149.5h4.2v4.2h-4.2zM632.5 150.9h4.2v4.2h-4.2zM632.8 152.4h4.2v4.2h-4.2zM633.2 153.9h4.2v4.2h-4.2zM633.5 155.3h4.2v4.2h-4.2zM633.8 156.8h4.2v4.2h-4.2zM634 157.6h4.2v4.2h-4.2zM634.4 159h4.2v4.2h-4.2zM634.8 160.5h4.2v4.2h-4.2zM635.2 161.9h4.2v4.2h-4.2zM635.6 163.4h4.2v4.2h-4.2zM636.1 164.8h4.2v4.2h-4.2zM636.5 166.3h4.2v4.2h-4.2zM636.9 167.7h4.2v4.2h-4.2zM637.1 168.5h4.2v4.2h-4.2zM638 169.7h4.2v4.2h-4.2zM638.9 170.9h4.2v4.2h-4.2zM639.8 172.1h4.2v4.2h-4.2zM640.7 173.3h4.2v4.2h-4.2zM641.6 174.5h4.2v4.2h-4.2zM641.8 174.7h4.2v4.2h-4.2zM643.1 175.4h4.2v4.2h-4.2zM644.5 176.1h4.2v4.2h-4.2zM645.8 176.7h4.2v4.2h-4.2zM647.2 177.4h4.2v4.2h-4.2zM648.5 178.1h4.2v4.2h-4.2zM649.5 178.6h4.2v4.2h-4.2zM651 178.9h4.2v4.2h-4.2zM652.4 179.2h4.2v4.2h-4.2zM653.9 179.4h4.2v4.2h-4.2zM655.4 179.7h4.2v4.2h-4.2zM656.9 180h4.2v4.2h-4.2zM657.3 180.1h4.2v4.2h-4.2zM658.8 180.5h4.2v4.2h-4.2zM660.2 180.8h4.2v4.2h-4.2zM661.7 181.2h4.2v4.2h-4.2zM663.1 181.5h4.2v4.2h-4.2zM664.6 181.9h4.2v4.2h-4.2zM666.1 182.2h4.2v4.2h-4.2zM667.3 182.5h4.2v4.2h-4.2zM669.7 177.8h4.2v4.2h-4.2zM670.4 169.3h4.2v4.2h-4.2zM670.8 157.6h4.2v4.2h-4.2zM671.2 145.2h4.2v4.2h-4.2zM671.7 132.8h4.2v4.2h-4.2zM672.3 124.2h4.2v4.2h-4.2zM673 115.4h4.2v4.2h-4.2zM674.4 100.8h4.2v4.2h-4.2zM674.6 99.3h4.2v4.2h-4.2zM674.8 97.8h4.2v4.2h-4.2zM675 96.3h4.2v4.2h-4.2zM675.3 94.9h4.2v4.2h-4.2zM675.5 93.4h4.2v4.2h-4.2zM675.7 91.9h4.2v4.2h-4.2zM675.9 90.5h4.2v4.2h-4.2zM676.4 89.1h4.2v4.2h-4.2zM676.8 87.7h4.2v4.2h-4.2zM677.3 86.2h4.2v4.2h-4.2zM677.8 84.8h4.2v4.2h-4.2zM678.3 83.4h4.2v4.2h-4.2zM678.7 82h4.2v4.2h-4.2zM678.8 81.8h4.2v4.2h-4.2zM679.5 80.5h4.2v4.2h-4.2zM680.2 79.1h4.2v4.2h-4.2zM680.8 77.8h4.2v4.2h-4.2zM681.5 76.5h4.2v4.2h-4.2zM681.8 75.9h4.2v4.2h-4.2zM682.2 74.5h4.2v4.2h-4.2zM682.6 73h4.2v4.2h-4.2zM683 71.6h4.2v4.2h-4.2zM683.2 70.8h4.2v4.2h-4.2zM683.8 69.4h4.2v4.2h-4.2zM684.5 68.1h4.2v4.2h-4.2zM685.1 66.7h4.2v4.2h-4.2zM685.7 65.4h4.2v4.2h-4.2zM686.4 64h4.2v4.2h-4.2zM687 62.6h4.2v4.2h-4.2zM687.6 61.3h4.2v4.2h-4.2zM688.7 60.3h4.2v4.2h-4.2zM689.9 59.4h4.2v4.2h-4.2zM691 58.4h4.2v4.2h-4.2zM692 57.6h4.2v4.2h-4.2zM693.1 56.5h4.2v4.2h-4.2zM694.1 55.5h4.2v4.2h-4.2zM695.2 54.4h4.2v4.2h-4.2zM695.6 54h4.2v4.2h-4.2zM696.5 52.8h4.2v4.2h-4.2zM697.4 51.6h4.2v4.2h-4.2zM697.8 51.1h4.2v4.2h-4.2zM699.1 51.8h4.2v4.2h-4.2zM700.5 52.4h4.2v4.2h-4.2zM701.8 53.1h4.2v4.2h-4.2zM702.2 53.3h4.2v4.2h-4.2zM702.4 54.8h4.2v4.2h-4.2zM702.7 56.3h4.2v4.2h-4.2zM702.9 57.7h4.2v4.2h-4.2zM703.1 59.2h4.2v4.2h-4.2zM703.4 60.7h4.2v4.2h-4.2zM703.6 62.2h4.2v4.2h-4.2zM703.9 63.7h4.2v4.2h-4.2zM704.1 65.2h4.2v4.2h-4.2zM704.3 66.6h4.2v4.2h-4.2zM704.4 67.1h4.2v4.2h-4.2zM704.6 68.6h4.2v4.2h-4.2zM704.9 70.1h4.2v4.2h-4.2zM705.1 71.5h4.2v4.2h-4.2zM705.4 73h4.2v4.2h-4.2zM705.6 74.5h4.2v4.2h-4.2zM705.9 76h4.2v4.2h-4.2zM706.1 77.5h4.2v4.2h-4.2zM706.4 78.9h4.2v4.2h-4.2zM706.6 80.3h4.2v4.2h-4.2zM706.9 81.8h4.2v4.2h-4.2zM707.1 83.3h4.2v4.2h-4.2zM707.4 84.7h4.2v4.2h-4.2zM707.7 86.2h4.2v4.2h-4.2zM707.9 87.7h4.2v4.2h-4.2zM708.2 89.2h4.2v4.2h-4.2zM708.5 90.6h4.2v4.2h-4.2zM708.7 92.1h4.2v4.2h-4.2zM709 93.6h4.2v4.2h-4.2zM709.3 95.1h4.2v4.2h-4.2zM709.5 96.4h4.2v4.2h-4.2zM709.8 97.9h4.2v4.2h-4.2zM710 99.4h4.2v4.2h-4.2zM710.3 100.8h4.2v4.2h-4.2zM710.6 102.3h4.2v4.2h-4.2zM710.8 103.8h4.2v4.2h-4.2zM711.1 105.3h4.2v4.2h-4.2zM711.4 106.7h4.2v4.2h-4.2zM711.6 107.9h4.2v4.2h-4.2zM711.8 109.4h4.2v4.2h-4.2zM712.1 110.9h4.2v4.2h-4.2zM712.3 112.3h4.2v4.2h-4.2zM712.6 113.8h4.2v4.2h-4.2zM712.8 115.3h4.2v4.2h-4.2zM713.1 116.8h4.2v4.2h-4.2zM713.3 118.3h4.2v4.2h-4.2zM713.6 119.7h4.2v4.2h-4.2zM713.8 121.2h4.2v4.2h-4.2zM714.1 122.7h4.2v4.2h-4.2zM714.3 124.2h4.2v4.2h-4.2zM714.6 125.7h4.2v4.2h-4.2zM714.7 126.5h4.2v4.2h-4.2zM714.9 128h4.2v4.2h-4.2zM715.2 129.5h4.2v4.2h-4.2zM715.4 130.9h4.2v4.2h-4.2zM715.7 132.4h4.2v4.2h-4.2zM715.9 133.9h4.2v4.2h-4.2zM716.2 135.4h4.2v4.2h-4.2zM716.4 136.9h4.2v4.2h-4.2zM716.7 138.3h4.2v4.2h-4.2zM716.9 139.8h4.2v4.2h-4.2zM717.2 141.3h4.2v4.2h-4.2zM717.4 142.8h4.2v4.2h-4.2zM717.6 144.3h4.2v4.2h-4.2zM717.8 145.2h4.2v4.2h-4.2zM718.1 146.7h4.2v4.2h-4.2zM718.3 148.2h4.2v4.2h-4.2zM718.6 149.6h4.2v4.2h-4.2zM718.9 151.1h4.2v4.2h-4.2zM719.1 152.6h4.2v4.2h-4.2zM719.4 154.1h4.2v4.2h-4.2zM719.7 155.5h4.2v4.2h-4.2zM719.9 157h4.2v4.2h-4.2zM720.2 158.5h4.2v4.2h-4.2zM720.5 160h4.2v4.2h-4.2zM720.7 161.4h4.2v4.2h-4.2zM720.9 162.3h4.2v4.2h-4.2zM721.3 163.8h4.2v4.2h-4.2zM721.6 165.2h4.2v4.2h-4.2zM722 166.7h4.2v4.2h-4.2zM722.4 168.1h4.2v4.2h-4.2zM722.7 169.6h4.2v4.2h-4.2zM723.1 171h4.2v4.2h-4.2zM723.4 172.5h4.2v4.2h-4.2zM723.8 173.9h4.2v4.2h-4.2zM724 174.7h4.2v4.2h-4.2zM725.2 175.7h4.2v4.2h-4.2zM726.3 176.6h4.2v4.2h-4.2zM727.5 177.6h4.2v4.2h-4.2zM728.6 178.5h4.2v4.2h-4.2zM728.7 178.6h4.2v4.2h-4.2zM730.2 178.9h4.2v4.2h-4.2zM731.7 179.1h4.2v4.2h-4.2zM733.1 179.4h4.2v4.2h-4.2zM734.6 179.6h4.2v4.2h-4.2zM736.1 179.9h4.2v4.2h-4.2zM737.6 180.1h4.2v4.2h-4.2zM738 180.2h4.2v4.2h-4.2zM739.5 180.3h4.2v4.2h-4.2zM741 180.3h4.2v4.2h-4.2zM742.5 180.4h4.2v4.2h-4.2zM744 180.5h4.2v4.2h-4.2zM745.5 180.6h4.2v4.2h-4.2zM747 180.6h4.2v4.2h-4.2zM748.5 180.7h4.2v4.2h-4.2zM750 180.8h4.2v4.2h-4.2zM751.5 180.9h4.2v4.2h-4.2zM752 180.9h4.2v4.2h-4.2z" fill="#050505"/>
<rect x="465.6" y="16.1" width="296.1" height="216.1" fill="none" stroke="#1a1a1a" stroke-width="1.6"/>
<rect x="525.4" y="21.7" width="233" height="12.1" fill="#fff" stroke="#333" stroke-width="1.1"/>
<path d="M536.2 27.8H560.6M609.3 27.8H633.7M682.3 27.8H705.8" stroke="#333" stroke-width="0.8"/>
<path d="M548.9 26v3.6M547.2 27.8h3.4" stroke="#111" stroke-width="0.8"/>
<circle cx="621.9" cy="27.8" r="2" fill="#fff" stroke="#222" stroke-width="0.8"/>
<rect x="692" y="25.8" width="4" height="4" fill="#111"/>
<text x="564.2" y="31.6" font-family="Liberation Sans" font-size="10.5" font-weight="normal" text-anchor="start" fill="#222" textLength="35.2" lengthAdjust="spacingAndGlyphs">10 ppm</text>
<text x="636.7" y="31.6" font-family="Liberation Sans" font-size="10.5" font-weight="normal" text-anchor="start" fill="#222" textLength="36" lengthAdjust="spacingAndGlyphs">50 ppm</text>
<text x="710.3" y="31.6" font-family="Liberation Sans" font-size="10.5" font-weight="normal" text-anchor="start" fill="#222" textLength="41.5" lengthAdjust="spacingAndGlyphs">100 ppm</text>
<text x="455.9" y="19.7" font-family="Liberation Sans" font-size="9.6" font-weight="bold" text-anchor="end" fill="#1a1a1a" textLength="30.6" lengthAdjust="spacingAndGlyphs" stroke="#1a1a1a" stroke-width="0.3">7.1x10</text>
<text x="456.6" y="14.7" font-family="Liberation Sans" font-size="8.6" font-weight="normal" text-anchor="start" fill="#1a1a1a" textLength="5.2" lengthAdjust="spacingAndGlyphs">5</text>
<text x="455.9" y="46.7" font-family="Liberation Sans" font-size="9.6" font-weight="bold" text-anchor="end" fill="#1a1a1a" textLength="30.6" lengthAdjust="spacingAndGlyphs" stroke="#1a1a1a" stroke-width="0.3">7.0x10</text>
<text x="456.6" y="41.7" font-family="Liberation Sans" font-size="8.6" font-weight="normal" text-anchor="start" fill="#1a1a1a" textLength="5.2" lengthAdjust="spacingAndGlyphs">5</text>
<text x="455.9" y="73.7" font-family="Liberation Sans" font-size="9.6" font-weight="bold" text-anchor="end" fill="#1a1a1a" textLength="30.6" lengthAdjust="spacingAndGlyphs" stroke="#1a1a1a" stroke-width="0.3">6.9x10</text>
<text x="456.6" y="68.7" font-family="Liberation Sans" font-size="8.6" font-weight="normal" text-anchor="start" fill="#1a1a1a" textLength="5.2" lengthAdjust="spacingAndGlyphs">5</text>
<text x="455.9" y="100.7" font-family="Liberation Sans" font-size="9.6" font-weight="bold" text-anchor="end" fill="#1a1a1a" textLength="30.6" lengthAdjust="spacingAndGlyphs" stroke="#1a1a1a" stroke-width="0.3">6.8x10</text>
<text x="456.6" y="95.7" font-family="Liberation Sans" font-size="8.6" font-weight="normal" text-anchor="start" fill="#1a1a1a" textLength="5.2" lengthAdjust="spacingAndGlyphs">5</text>
<text x="455.9" y="127.8" font-family="Liberation Sans" font-size="9.6" font-weight="bold" text-anchor="end" fill="#1a1a1a" textLength="30.6" lengthAdjust="spacingAndGlyphs" stroke="#1a1a1a" stroke-width="0.3">6.7x10</text>
<text x="456.6" y="122.8" font-family="Liberation Sans" font-size="8.6" font-weight="normal" text-anchor="start" fill="#1a1a1a" textLength="5.2" lengthAdjust="spacingAndGlyphs">5</text>
<text x="455.9" y="154.8" font-family="Liberation Sans" font-size="9.6" font-weight="bold" text-anchor="end" fill="#1a1a1a" textLength="30.6" lengthAdjust="spacingAndGlyphs" stroke="#1a1a1a" stroke-width="0.3">6.6x10</text>
<text x="456.6" y="149.8" font-family="Liberation Sans" font-size="8.6" font-weight="normal" text-anchor="start" fill="#1a1a1a" textLength="5.2" lengthAdjust="spacingAndGlyphs">5</text>
<text x="455.9" y="181.8" font-family="Liberation Sans" font-size="9.6" font-weight="bold" text-anchor="end" fill="#1a1a1a" textLength="30.6" lengthAdjust="spacingAndGlyphs" stroke="#1a1a1a" stroke-width="0.3">6.5x10</text>
<text x="456.6" y="176.8" font-family="Liberation Sans" font-size="8.6" font-weight="normal" text-anchor="start" fill="#1a1a1a" textLength="5.2" lengthAdjust="spacingAndGlyphs">5</text>
<text x="455.9" y="208.8" font-family="Liberation Sans" font-size="9.6" font-weight="bold" text-anchor="end" fill="#1a1a1a" textLength="30.6" lengthAdjust="spacingAndGlyphs" stroke="#1a1a1a" stroke-width="0.3">6.4x10</text>
<text x="456.6" y="203.8" font-family="Liberation Sans" font-size="8.6" font-weight="normal" text-anchor="start" fill="#1a1a1a" textLength="5.2" lengthAdjust="spacingAndGlyphs">5</text>
<text x="455.9" y="235.8" font-family="Liberation Sans" font-size="9.6" font-weight="bold" text-anchor="end" fill="#1a1a1a" textLength="30.6" lengthAdjust="spacingAndGlyphs" stroke="#1a1a1a" stroke-width="0.3">6.3x10</text>
<text x="456.6" y="230.8" font-family="Liberation Sans" font-size="8.6" font-weight="normal" text-anchor="start" fill="#1a1a1a" textLength="5.2" lengthAdjust="spacingAndGlyphs">5</text>
<text x="465.6" y="245.3" font-family="Liberation Sans" font-size="10" font-weight="bold" text-anchor="middle" fill="#1a1a1a"  stroke="#1a1a1a" stroke-width="0.3">0</text>
<text x="514.9" y="245.3" font-family="Liberation Sans" font-size="10" font-weight="bold" text-anchor="middle" fill="#1a1a1a"  stroke="#1a1a1a" stroke-width="0.3">1000</text>
<text x="564.2" y="245.3" font-family="Liberation Sans" font-size="10" font-weight="bold" text-anchor="middle" fill="#1a1a1a"  stroke="#1a1a1a" stroke-width="0.3">2000</text>
<text x="613.5" y="245.3" font-family="Liberation Sans" font-size="10" font-weight="bold" text-anchor="middle" fill="#1a1a1a"  stroke="#1a1a1a" stroke-width="0.3">3000</text>
<text x="662.8" y="245.3" font-family="Liberation Sans" font-size="10" font-weight="bold" text-anchor="middle" fill="#1a1a1a"  stroke="#1a1a1a" stroke-width="0.3">4000</text>
<text x="712.1" y="245.3" font-family="Liberation Sans" font-size="10" font-weight="bold" text-anchor="middle" fill="#1a1a1a"  stroke="#1a1a1a" stroke-width="0.3">5000</text>
<text x="761.4" y="245.3" font-family="Liberation Sans" font-size="10" font-weight="bold" text-anchor="middle" fill="#1a1a1a"  stroke="#1a1a1a" stroke-width="0.3">6000</text>
<text x="616.3" y="257.6" font-family="Liberation Sans" font-size="10.5" font-weight="bold" text-anchor="middle" fill="#1a1a1a" textLength="40.5" lengthAdjust="spacingAndGlyphs" stroke="#1a1a1a" stroke-width="0.3">Time (s)</text>
<text x="0" y="0" font-family="Liberation Sans" font-size="10.3" font-weight="bold" text-anchor="middle" fill="#1a1a1a" transform="translate(420.0 127.9) rotate(-90)" textLength="73" lengthAdjust="spacingAndGlyphs" stroke="#1a1a1a" stroke-width="0.3">Resistance (&#937;)</text>
<text x="478.7" y="220.8" font-family="Liberation Sans" font-size="10" font-weight="bold" text-anchor="middle" fill="#1a1a1a"  stroke="#1a1a1a" stroke-width="0.3">Air</text>
<text x="555" y="220.8" font-family="Liberation Sans" font-size="10" font-weight="bold" text-anchor="middle" fill="#1a1a1a"  stroke="#1a1a1a" stroke-width="0.3">Air</text>
<text x="642" y="220.8" font-family="Liberation Sans" font-size="10" font-weight="bold" text-anchor="middle" fill="#1a1a1a"  stroke="#1a1a1a" stroke-width="0.3">Air</text>
<text x="730.5" y="220.8" font-family="Liberation Sans" font-size="10" font-weight="bold" text-anchor="middle" fill="#1a1a1a"  stroke="#1a1a1a" stroke-width="0.3">Air</text>
<text x="501.2" y="209.8" font-family="Liberation Sans" font-size="10" font-weight="bold" fill="#1a1a1a">H<tspan dy="4.3" font-size="8" font-weight="normal">2</tspan><tspan dy="-4.3" dx="-2.2">S</tspan></text>
<text x="590.5" y="209.8" font-family="Liberation Sans" font-size="10" font-weight="bold" fill="#1a1a1a">H<tspan dy="4.3" font-size="8" font-weight="normal">2</tspan><tspan dy="-4.3" dx="-2.2">S</tspan></text>
<text x="678.3" y="209.8" font-family="Liberation Sans" font-size="10" font-weight="bold" fill="#1a1a1a">H<tspan dy="4.3" font-size="8" font-weight="normal">2</tspan><tspan dy="-4.3" dx="-2.2">S</tspan></text>
<text x="397" y="22.6" font-family="Liberation Serif" font-size="18" font-weight="bold" text-anchor="start" fill="#111" >(b)</text>
<g stroke="#1a1a1a" stroke-width="1.3" fill="none">
<path d="M73.6 16H77.9"/>
<path d="M73.6 36.5H77.9"/>
<path d="M73.6 57H77.9"/>
<path d="M73.6 77.6H77.9"/>
<path d="M73.6 98.1H77.9"/>
<path d="M73.6 118.6H77.9"/>
<path d="M73.6 139.1H77.9"/>
<path d="M73.6 159.7H77.9"/>
<path d="M73.6 180.2H77.9"/>
<path d="M73.6 200.7H77.9"/>
<path d="M73.6 221.2H77.9"/>
<path d="M73.6 26.3H75.8"/>
<path d="M73.6 46.8H75.8"/>
<path d="M73.6 67.3H75.8"/>
<path d="M73.6 87.8H75.8"/>
<path d="M73.6 108.4H75.8"/>
<path d="M73.6 128.9H75.8"/>
<path d="M73.6 149.4H75.8"/>
<path d="M73.6 169.9H75.8"/>
<path d="M73.6 190.5H75.8"/>
<path d="M73.6 211H75.8"/>
<path d="M73.6 231.5H75.8"/>
<path d="M122.9 231.5V226.5"/>
<path d="M98.2 231.5V228.5"/>
<path d="M172.2 231.5V226.5"/>
<path d="M147.5 231.5V228.5"/>
<path d="M221.5 231.5V226.5"/>
<path d="M196.8 231.5V228.5"/>
<path d="M270.8 231.5V226.5"/>
<path d="M246.1 231.5V228.5"/>
<path d="M320.1 231.5V226.5"/>
<path d="M295.4 231.5V228.5"/>
<path d="M369.4 231.5V226.5"/>
<path d="M344.8 231.5V228.5"/>
</g>
<g stroke="#555" stroke-width="1" fill="none" stroke-dasharray="1.3 3.2">
<path d="M75.6 222.7H368.4"/>
<path d="M99.6 222.7V215H129.9V222.7"/>
<path d="M191.4 222.7V215H221.6V222.7"/>
<path d="M279.5 222.7V215H309.6V222.7"/>
</g>
<path d="M71.9 48.2L75.3 51.6M71.9 51.6L75.3 48.2M73.6 48.2L73.6 51.6M73 48.3L76.5 51.7M73 51.7L76.5 48.3M74.8 48.3L74.8 51.7M74.2 48.7L77.6 52.1M74.2 52.1L77.6 48.7M75.9 48.7L75.9 52.1M75.4 48.1L78.8 51.5M75.4 51.5L78.8 48.1M77.1 48.1L77.1 51.5M76.5 48L79.9 51.4M76.5 51.4L79.9 48M78.2 48L78.2 51.4M77.7 48.1L81.1 51.5M77.7 51.5L81.1 48.1M79.4 48.1L79.4 51.5M78.8 47.5L82.2 50.9M78.8 50.9L82.2 47.5M80.5 47.5L80.5 50.9M80 47.9L83.4 51.3M80 51.3L83.4 47.9M81.7 47.9L81.7 51.3M81.1 47.9L84.5 51.3M81.1 51.3L84.5 47.9M82.8 47.9L82.8 51.3M82.3 48.1L85.7 51.5M82.3 51.5L85.7 48.1M84 48.1L84 51.5M83.4 47.2L86.8 50.6M83.4 50.6L86.8 47.2M85.1 47.2L85.1 50.6M84.6 47.3L88 50.7M84.6 50.7L88 47.3M86.3 47.3L86.3 50.7M85.7 47L89.1 50.4M85.7 50.4L89.1 47M87.4 47L87.4 50.4M86.9 47.8L90.3 51.2M86.9 51.2L90.3 47.8M88.6 47.8L88.6 51.2M88 47.6L91.4 51M88 51L91.4 47.6M89.7 47.6L89.7 51M89.2 46.8L92.6 50.2M89.2 50.2L92.6 46.8M90.9 46.8L90.9 50.2M90.3 48L93.7 51.4M90.3 51.4L93.7 48M92 48L92 51.4M91.5 48.2L94.9 51.6M91.5 51.6L94.9 48.2M93.2 48.2L93.2 51.6M92.6 47.9L96 51.3M92.6 51.3L96 47.9M94.3 47.9L94.3 51.3M93.8 48.1L97.2 51.5M93.8 51.5L97.2 48.1M95.5 48.1L95.5 51.5M94.9 47.7L98.3 51.1M94.9 51.1L98.3 47.7M96.6 47.7L96.6 51.1M96.1 47.7L99.5 51.1M96.1 51.1L99.5 47.7M97.8 47.7L97.8 51.1M97.2 48.4L100.6 51.8M97.2 51.8L100.6 48.4M98.9 48.4L98.9 51.8M98.4 48L101.8 51.4M98.4 51.4L101.8 48M100.1 48L100.1 51.4M99.5 48.3L102.9 51.7M99.5 51.7L102.9 48.3M101.2 48.3L101.2 51.7M100.7 49.6L104.1 53M100.7 53L104.1 49.6M102.4 49.6L102.4 53M101.8 51.7L105.2 55.1M101.8 55.1L105.2 51.7M103.5 51.7L103.5 55.1M103 56.7L106.4 60.1M103 60.1L106.4 56.7M104.7 56.7L104.7 60.1M104.1 62.7L107.5 66.1M104.1 66.1L107.5 62.7M105.8 62.7L105.8 66.1M105.3 66.7L108.7 70.1M105.3 70.1L108.7 66.7M107 66.7L107 70.1M106.4 69.4L109.8 72.8M106.4 72.8L109.8 69.4M108.1 69.4L108.1 72.8M107.6 70.3L111 73.7M107.6 73.7L111 70.3M109.3 70.3L109.3 73.7M108.7 70.8L112.1 74.2M108.7 74.2L112.1 70.8M110.4 70.8L110.4 74.2M109.9 71.8L113.3 75.2M109.9 75.2L113.3 71.8M111.6 71.8L111.6 75.2M111 72.4L114.4 75.8M111 75.8L114.4 72.4M112.7 72.4L112.7 75.8M112.2 73L115.6 76.4M112.2 76.4L115.6 73M113.9 73L113.9 76.4M113.3 74.7L116.7 78.1M113.3 78.1L116.7 74.7M115 74.7L115 78.1M114.5 75.5L117.9 78.9M114.5 78.9L117.9 75.5M116.2 75.5L116.2 78.9M115.6 75.8L119 79.2M115.6 79.2L119 75.8M117.3 75.8L117.3 79.2M116.8 76.2L120.2 79.6M116.8 79.6L120.2 76.2M118.5 76.2L118.5 79.6M117.9 76.2L121.3 79.6M117.9 79.6L121.3 76.2M119.6 76.2L119.6 79.6M119.1 76.7L122.5 80.1M119.1 80.1L122.5 76.7M120.8 76.7L120.8 80.1M120.2 77.3L123.6 80.7M120.2 80.7L123.6 77.3M121.9 77.3L121.9 80.7M121.4 77.5L124.8 80.9M121.4 80.9L124.8 77.5M123.1 77.5L123.1 80.9M122.5 78.8L125.9 82.2M122.5 82.2L125.9 78.8M124.2 78.8L124.2 82.2M123.7 78.9L127.1 82.3M123.7 82.3L127.1 78.9M125.4 78.9L125.4 82.3M124.8 80L128.2 83.4M124.8 83.4L128.2 80M126.5 80L126.5 83.4M126 80L129.4 83.4M126 83.4L129.4 80M127.7 80L127.7 83.4M127.1 81.2L130.5 84.6M127.1 84.6L130.5 81.2M128.8 81.2L128.8 84.6M128.3 81.6L131.7 85M128.3 85L131.7 81.6M130 81.6L130 85M129.4 80.2L132.8 83.6M129.4 83.6L132.8 80.2M131.1 80.2L131.1 83.6M130.6 79.1L134 82.5M130.6 82.5L134 79.1M132.3 79.1L132.3 82.5M131.7 78.7L135.1 82.1M131.7 82.1L135.1 78.7M133.4 78.7L133.4 82.1M132.9 76.8L136.3 80.2M132.9 80.2L136.3 76.8M134.6 76.8L134.6 80.2M134 74.1L137.4 77.5M134 77.5L137.4 74.1M135.7 74.1L135.7 77.5M135.2 70L138.6 73.4M135.2 73.4L138.6 70M136.9 70L136.9 73.4M136.3 66.9L139.7 70.3M136.3 70.3L139.7 66.9M138 66.9L138 70.3M137.5 65.1L140.9 68.5M137.5 68.5L140.9 65.1M139.2 65.1L139.2 68.5M138.6 64.4L142 67.8M138.6 67.8L142 64.4M140.3 64.4L140.3 67.8M139.8 62.9L143.2 66.3M139.8 66.3L143.2 62.9M141.5 62.9L141.5 66.3M140.9 61.8L144.3 65.2M140.9 65.2L144.3 61.8M142.6 61.8L142.6 65.2M142.1 61.2L145.5 64.6M142.1 64.6L145.5 61.2M143.8 61.2L143.8 64.6M143.2 61.1L146.6 64.5M143.2 64.5L146.6 61.1M144.9 61.1L144.9 64.5M144.4 60L147.8 63.4M144.4 63.4L147.8 60M146.1 60L146.1 63.4M145.5 58.5L148.9 61.9M145.5 61.9L148.9 58.5M147.2 58.5L147.2 61.9M146.7 57.9L150.1 61.3M146.7 61.3L150.1 57.9M148.4 57.9L148.4 61.3M147.8 56.9L151.2 60.3M147.8 60.3L151.2 56.9M149.5 56.9L149.5 60.3M149 56.1L152.4 59.5M149 59.5L152.4 56.1M150.7 56.1L150.7 59.5M150.1 56.2L153.5 59.6M150.1 59.6L153.5 56.2M151.8 56.2L151.8 59.6M151.3 54.8L154.7 58.2M151.3 58.2L154.7 54.8M153 54.8L153 58.2M152.4 54.5L155.8 57.9M152.4 57.9L155.8 54.5M154.1 54.5L154.1 57.9M153.6 53.7L157 57.1M153.6 57.1L157 53.7M155.3 53.7L155.3 57.1M154.7 52.7L158.1 56.1M154.7 56.1L158.1 52.7M156.4 52.7L156.4 56.1M155.9 52.7L159.3 56.1M155.9 56.1L159.3 52.7M157.6 52.7L157.6 56.1M157 51.2L160.4 54.6M157 54.6L160.4 51.2M158.7 51.2L158.7 54.6M158.2 51.2L161.6 54.6M158.2 54.6L161.6 51.2M159.9 51.2L159.9 54.6M159.3 50L162.7 53.4M159.3 53.4L162.7 50M161 50L161 53.4M160.5 49.7L163.9 53.1M160.5 53.1L163.9 49.7M162.2 49.7L162.2 53.1M161.6 48.9L165 52.3M161.6 52.3L165 48.9M163.3 48.9L163.3 52.3M162.8 48.3L166.2 51.7M162.8 51.7L166.2 48.3M164.5 48.3L164.5 51.7M163.9 48.6L167.3 52M163.9 52L167.3 48.6M165.6 48.6L165.6 52M165.1 47.9L168.5 51.3M165.1 51.3L168.5 47.9M166.8 47.9L166.8 51.3M166.2 46.8L169.6 50.2M166.2 50.2L169.6 46.8M167.9 46.8L167.9 50.2M167.4 47.1L170.8 50.5M167.4 50.5L170.8 47.1M169.1 47.1L169.1 50.5M168.5 45.8L171.9 49.2M168.5 49.2L171.9 45.8M170.2 45.8L170.2 49.2M169.7 45.6L173.1 49M169.7 49L173.1 45.6M171.4 45.6L171.4 49M170.8 46.2L174.2 49.6M170.8 49.6L174.2 46.2M172.5 46.2L172.5 49.6M172 46.1L175.4 49.5M172 49.5L175.4 46.1M173.7 46.1L173.7 49.5M173.1 45.7L176.5 49.1M173.1 49.1L176.5 45.7M174.8 45.7L174.8 49.1M174.3 46.9L177.7 50.3M174.3 50.3L177.7 46.9M176 46.9L176 50.3M175.4 46.2L178.8 49.6M175.4 49.6L178.8 46.2M177.1 46.2L177.1 49.6M176.6 46.5L180 49.9M176.6 49.9L180 46.5M178.3 46.5L178.3 49.9M177.7 47.3L181.1 50.7M177.7 50.7L181.1 47.3M179.4 47.3L179.4 50.7M178.9 46.9L182.3 50.3M178.9 50.3L182.3 46.9M180.6 46.9L180.6 50.3M180 47.1L183.4 50.5M180 50.5L183.4 47.1M181.7 47.1L181.7 50.5M181.2 47.1L184.6 50.5M181.2 50.5L184.6 47.1M182.9 47.1L182.9 50.5M182.3 47.3L185.7 50.7M182.3 50.7L185.7 47.3M184 47.3L184 50.7M183.5 48.1L186.9 51.5M183.5 51.5L186.9 48.1M185.2 48.1L185.2 51.5M184.6 47.9L188 51.3M184.6 51.3L188 47.9M186.3 47.9L186.3 51.3M185.8 48.6L189.2 52M185.8 52L189.2 48.6M187.5 48.6L187.5 52M186.9 48.5L190.3 51.9M186.9 51.9L190.3 48.5M188.6 48.5L188.6 51.9M188.1 48.8L191.5 52.2M188.1 52.2L191.5 48.8M189.8 48.8L189.8 52.2M189.2 49.6L192.6 53M189.2 53L192.6 49.6M190.9 49.6L190.9 53M190.4 49.3L193.8 52.7M190.4 52.7L193.8 49.3M192.1 49.3L192.1 52.7M191.5 53.9L194.9 57.3M191.5 57.3L194.9 53.9M193.2 53.9L193.2 57.3M192.7 59L196.1 62.4M192.7 62.4L196.1 59M194.4 59L194.4 62.4M193.8 62.9L197.2 66.3M193.8 66.3L197.2 62.9M195.5 62.9L195.5 66.3M195 66.7L198.4 70.1M195 70.1L198.4 66.7M196.7 66.7L196.7 70.1M196.1 70.6L199.5 74M196.1 74L199.5 70.6M197.8 70.6L197.8 74M197.3 73.1L200.7 76.5M197.3 76.5L200.7 73.1M199 73.1L199 76.5M198.4 75.1L201.8 78.5M198.4 78.5L201.8 75.1M200.1 75.1L200.1 78.5M199.6 76.5L203 79.9M199.6 79.9L203 76.5M201.3 76.5L201.3 79.9M200.7 77.9L204.1 81.3M200.7 81.3L204.1 77.9M202.4 77.9L202.4 81.3M201.9 79L205.3 82.4M201.9 82.4L205.3 79M203.6 79L203.6 82.4M203 78.9L206.4 82.3M203 82.3L206.4 78.9M204.7 78.9L204.7 82.3M204.2 80.6L207.6 84M204.2 84L207.6 80.6M205.9 80.6L205.9 84M205.3 81.3L208.7 84.7M205.3 84.7L208.7 81.3M207 81.3L207 84.7M206.5 81.3L209.9 84.7M206.5 84.7L209.9 81.3M208.2 81.3L208.2 84.7M207.6 81.4L211 84.8M207.6 84.8L211 81.4M209.3 81.4L209.3 84.8M208.8 81.4L212.2 84.8M208.8 84.8L212.2 81.4M210.5 81.4L210.5 84.8M209.9 81.6L213.3 85M209.9 85L213.3 81.6M211.6 81.6L211.6 85M211.1 83.1L214.5 86.5M211.1 86.5L214.5 83.1M212.8 83.1L212.8 86.5M212.2 82.6L215.6 86M212.2 86L215.6 82.6M213.9 82.6L213.9 86M213.4 83.5L216.8 86.9M213.4 86.9L216.8 83.5M215.1 83.5L215.1 86.9M214.5 83.1L217.9 86.5M214.5 86.5L217.9 83.1M216.2 83.1L216.2 86.5M215.7 83.3L219.1 86.7M215.7 86.7L219.1 83.3M217.4 83.3L217.4 86.7M216.8 82.6L220.2 86M216.8 86L220.2 82.6M218.5 82.6L218.5 86M218 81.2L221.4 84.6M218 84.6L221.4 81.2M219.7 81.2L219.7 84.6M219.1 79.6L222.5 83M219.1 83L222.5 79.6M220.8 79.6L220.8 83M220.3 78.8L223.7 82.2M220.3 82.2L223.7 78.8M222 78.8L222 82.2M221.4 75.7L224.8 79.1M221.4 79.1L224.8 75.7M223.1 75.7L223.1 79.1M222.6 72.9L226 76.3M222.6 76.3L226 72.9M224.3 72.9L224.3 76.3M223.7 70.5L227.1 73.9M223.7 73.9L227.1 70.5M225.4 70.5L225.4 73.9M224.9 69.2L228.3 72.6M224.9 72.6L228.3 69.2M226.6 69.2L226.6 72.6M226 67.3L229.4 70.7M226 70.7L229.4 67.3M227.7 67.3L227.7 70.7M227.2 65.2L230.6 68.6M227.2 68.6L230.6 65.2M228.9 65.2L228.9 68.6M228.3 64.8L231.7 68.2M228.3 68.2L231.7 64.8M230 64.8L230 68.2M229.5 62.7L232.9 66.1M229.5 66.1L232.9 62.7M231.2 62.7L231.2 66.1M230.6 61.3L234 64.7M230.6 64.7L234 61.3M232.3 61.3L232.3 64.7M231.8 60.4L235.2 63.8M231.8 63.8L235.2 60.4M233.5 60.4L233.5 63.8M232.9 59.1L236.3 62.5M232.9 62.5L236.3 59.1M234.6 59.1L234.6 62.5M234.1 57.1L237.5 60.5M234.1 60.5L237.5 57.1M235.8 57.1L235.8 60.5M235.2 55.7L238.6 59.1M235.2 59.1L238.6 55.7M236.9 55.7L236.9 59.1M236.4 54.6L239.8 58M236.4 58L239.8 54.6M238.1 54.6L238.1 58M237.5 55.6L240.9 59M237.5 59L240.9 55.6M239.2 55.6L239.2 59M238.7 55.8L242.1 59.2M238.7 59.2L242.1 55.8M240.4 55.8L240.4 59.2M239.8 56.8L243.2 60.2M239.8 60.2L243.2 56.8M241.5 56.8L241.5 60.2M241 56.7L244.4 60.1M241 60.1L244.4 56.7M242.7 56.7L242.7 60.1M242.1 56L245.5 59.4M242.1 59.4L245.5 56M243.8 56L243.8 59.4M243.3 54.8L246.7 58.2M243.3 58.2L246.7 54.8M245 54.8L245 58.2M244.4 54L247.8 57.4M244.4 57.4L247.8 54M246.1 54L246.1 57.4M245.6 53L249 56.4M245.6 56.4L249 53M247.3 53L247.3 56.4M246.7 51.7L250.1 55.1M246.7 55.1L250.1 51.7M248.4 51.7L248.4 55.1M247.9 50.8L251.3 54.2M247.9 54.2L251.3 50.8M249.6 50.8L249.6 54.2M249 50L252.4 53.4M249 53.4L252.4 50M250.7 50L250.7 53.4M250.2 50.2L253.6 53.6M250.2 53.6L253.6 50.2M251.9 50.2L251.9 53.6M251.3 49.2L254.7 52.6M251.3 52.6L254.7 49.2M253 49.2L253 52.6M252.5 48.7L255.9 52.1M252.5 52.1L255.9 48.7M254.2 48.7L254.2 52.1M253.6 47.3L257 50.7M253.6 50.7L257 47.3M255.3 47.3L255.3 50.7M254.8 48L258.2 51.4M254.8 51.4L258.2 48M256.5 48L256.5 51.4M255.9 47.9L259.3 51.3M255.9 51.3L259.3 47.9M257.6 47.9L257.6 51.3M257.1 48.3L260.5 51.7M257.1 51.7L260.5 48.3M258.8 48.3L258.8 51.7M258.2 48L261.6 51.4M258.2 51.4L261.6 48M259.9 48L259.9 51.4M259.4 49L262.8 52.4M259.4 52.4L262.8 49M261.1 49L261.1 52.4M260.5 48.1L263.9 51.5M260.5 51.5L263.9 48.1M262.2 48.1L262.2 51.5M261.7 48.8L265.1 52.2M261.7 52.2L265.1 48.8M263.4 48.8L263.4 52.2M262.8 49.2L266.2 52.6M262.8 52.6L266.2 49.2M264.5 49.2L264.5 52.6M264 49.6L267.4 53M264 53L267.4 49.6M265.7 49.6L265.7 53M265.1 49.6L268.5 53M265.1 53L268.5 49.6M266.8 49.6L266.8 53M266.3 49.5L269.7 52.9M266.3 52.9L269.7 49.5M268 49.5L268 52.9M267.4 49.7L270.8 53.1M267.4 53.1L270.8 49.7M269.1 49.7L269.1 53.1M268.6 49.8L272 53.2M268.6 53.2L272 49.8M270.3 49.8L270.3 53.2M269.7 49.1L273.1 52.5M269.7 52.5L273.1 49.1M271.4 49.1L271.4 52.5M270.9 49.5L274.3 52.9M270.9 52.9L274.3 49.5M272.6 49.5L272.6 52.9M272 49.8L275.4 53.2M272 53.2L275.4 49.8M273.7 49.8L273.7 53.2M273.2 49.7L276.6 53.1M273.2 53.1L276.6 49.7M274.9 49.7L274.9 53.1M274.3 49.2L277.7 52.6M274.3 52.6L277.7 49.2M276 49.2L276 52.6M275.5 49.6L278.9 53M275.5 53L278.9 49.6M277.2 49.6L277.2 53M276.6 49.7L280 53.1M276.6 53.1L280 49.7M278.3 49.7L278.3 53.1M277.8 49.4L281.2 52.8M277.8 52.8L281.2 49.4M279.5 49.4L279.5 52.8M278.9 53.4L282.3 56.8M278.9 56.8L282.3 53.4M280.6 53.4L280.6 56.8M280.1 58.9L283.5 62.3M280.1 62.3L283.5 58.9M281.8 58.9L281.8 62.3M281.2 66L284.6 69.4M281.2 69.4L284.6 66M282.9 66L282.9 69.4M282.4 72.9L285.8 76.3M282.4 76.3L285.8 72.9M284.1 72.9L284.1 76.3M283.5 76.5L286.9 79.9M283.5 79.9L286.9 76.5M285.2 76.5L285.2 79.9M284.7 78.9L288.1 82.3M284.7 82.3L288.1 78.9M286.4 78.9L286.4 82.3M285.8 81L289.2 84.4M285.8 84.4L289.2 81M287.5 81L287.5 84.4M287 81.6L290.4 85M287 85L290.4 81.6M288.7 81.6L288.7 85M288.1 81.7L291.5 85.1M288.1 85.1L291.5 81.7M289.8 81.7L289.8 85.1M289.3 81.5L292.7 84.9M289.3 84.9L292.7 81.5M291 81.5L291 84.9M290.4 82.2L293.8 85.6M290.4 85.6L293.8 82.2M292.1 82.2L292.1 85.6M291.6 82.2L295 85.6M291.6 85.6L295 82.2M293.3 82.2L293.3 85.6M292.7 82.3L296.1 85.7M292.7 85.7L296.1 82.3M294.4 82.3L294.4 85.7M293.9 83L297.3 86.4M293.9 86.4L297.3 83M295.6 83L295.6 86.4M295 82.5L298.4 85.9M295 85.9L298.4 82.5M296.7 82.5L296.7 85.9M296.2 83.9L299.6 87.3M296.2 87.3L299.6 83.9M297.9 83.9L297.9 87.3M297.3 83.6L300.7 87M297.3 87L300.7 83.6M299 83.6L299 87M298.5 84.8L301.9 88.2M298.5 88.2L301.9 84.8M300.2 84.8L300.2 88.2M299.6 85.3L303 88.7M299.6 88.7L303 85.3M301.3 85.3L301.3 88.7M300.8 85.5L304.1 88.9M300.8 88.9L304.1 85.5M302.4 85.5L302.4 88.9M301.9 86.7L305.3 90.1M301.9 90.1L305.3 86.7M303.6 86.7L303.6 90.1M303 87L306.4 90.4M303 90.4L306.4 87M304.7 87L304.7 90.4M304.2 87.7L307.6 91.1M304.2 91.1L307.6 87.7M305.9 87.7L305.9 91.1M305.3 87.1L308.7 90.5M305.3 90.5L308.7 87.1M307 87.1L307 90.5M306.5 85.2L309.9 88.6M306.5 88.6L309.9 85.2M308.2 85.2L308.2 88.6M307.6 83.7L311 87.1M307.6 87.1L311 83.7M309.3 83.7L309.3 87.1M308.8 83L312.2 86.4M308.8 86.4L312.2 83M310.5 83L310.5 86.4M309.9 80.2L313.3 83.6M309.9 83.6L313.3 80.2M311.6 80.2L311.6 83.6M311.1 74.9L314.5 78.3M311.1 78.3L314.5 74.9M312.8 74.9L312.8 78.3M312.2 70.1L315.6 73.5M312.2 73.5L315.6 70.1M313.9 70.1L313.9 73.5M313.4 68.7L316.8 72.1M313.4 72.1L316.8 68.7M315.1 68.7L315.1 72.1M314.5 66.9L317.9 70.3M314.5 70.3L317.9 66.9M316.2 66.9L316.2 70.3M315.7 65L319.1 68.4M315.7 68.4L319.1 65M317.4 65L317.4 68.4M316.8 64L320.2 67.4M316.8 67.4L320.2 64M318.5 64L318.5 67.4M318 61.7L321.4 65.1M318 65.1L321.4 61.7M319.7 61.7L319.7 65.1M319.1 60.6L322.5 64M319.1 64L322.5 60.6M320.8 60.6L320.8 64M320.3 59L323.7 62.4M320.3 62.4L323.7 59M322 59L322 62.4M321.4 58.4L324.8 61.8M321.4 61.8L324.8 58.4M323.1 58.4L323.1 61.8M322.6 57.9L326 61.3M322.6 61.3L326 57.9M324.3 57.9L324.3 61.3M323.7 58.4L327.1 61.8M323.7 61.8L327.1 58.4M325.4 58.4L325.4 61.8M324.9 59L328.3 62.4M324.9 62.4L328.3 59M326.6 59L326.6 62.4M326 58.4L329.4 61.8M326 61.8L329.4 58.4M327.7 58.4L327.7 61.8M327.2 57.9L330.6 61.3M327.2 61.3L330.6 57.9M328.9 57.9L328.9 61.3M328.3 56.7L331.7 60.1M328.3 60.1L331.7 56.7M330 56.7L330 60.1M329.5 55.7L332.9 59.1M329.5 59.1L332.9 55.7M331.2 55.7L331.2 59.1M330.6 55.3L334 58.7M330.6 58.7L334 55.3M332.3 55.3L332.3 58.7M331.8 56L335.2 59.4M331.8 59.4L335.2 56M333.5 56L333.5 59.4M332.9 56.3L336.3 59.7M332.9 59.7L336.3 56.3M334.6 56.3L334.6 59.7M334.1 56.5L337.5 59.9M334.1 59.9L337.5 56.5M335.8 56.5L335.8 59.9M335.2 57.1L338.6 60.5M335.2 60.5L338.6 57.1M336.9 57.1L336.9 60.5M336.4 56L339.8 59.4M336.4 59.4L339.8 56M338.1 56L338.1 59.4M337.5 55L340.9 58.4M337.5 58.4L340.9 55M339.2 55L339.2 58.4M338.7 54.3L342.1 57.7M338.7 57.7L342.1 54.3M340.4 54.3L340.4 57.7M339.8 53.2L343.2 56.6M339.8 56.6L343.2 53.2M341.5 53.2L341.5 56.6M341 52.5L344.4 55.9M341 55.9L344.4 52.5M342.7 52.5L342.7 55.9M342.1 52.4L345.5 55.8M342.1 55.8L345.5 52.4M343.8 52.4L343.8 55.8M343.3 52.3L346.7 55.7M343.3 55.7L346.7 52.3M345 52.3L345 55.7M344.4 51.8L347.8 55.2M344.4 55.2L347.8 51.8M346.1 51.8L346.1 55.2M345.6 51.3L349 54.7M345.6 54.7L349 51.3M347.3 51.3L347.3 54.7M346.7 51.6L350.1 55M346.7 55L350.1 51.6M348.4 51.6L348.4 55M347.9 51.3L351.3 54.7M347.9 54.7L351.3 51.3M349.6 51.3L349.6 54.7M349 50L352.4 53.4M349 53.4L352.4 50M350.7 50L350.7 53.4M350.2 48.9L353.6 52.3M350.2 52.3L353.6 48.9M351.9 48.9L351.9 52.3M351.3 48.1L354.7 51.5M351.3 51.5L354.7 48.1M353 48.1L353 51.5M352.5 49L355.9 52.4M352.5 52.4L355.9 49M354.2 49L354.2 52.4M353.6 48.6L357 52M353.6 52L357 48.6M355.3 48.6L355.3 52M354.8 50L358.2 53.4M354.8 53.4L358.2 50M356.5 50L356.5 53.4M355.9 50.4L359.3 53.8M355.9 53.8L359.3 50.4M357.6 50.4L357.6 53.8M357.1 50.7L360.5 54.1M357.1 54.1L360.5 50.7M358.8 50.7L358.8 54.1M358.2 51.8L361.6 55.2M358.2 55.2L361.6 51.8M359.9 51.8L359.9 55.2M359.4 51L362.8 54.4M359.4 54.4L362.8 51M361.1 51L361.1 54.4M360.5 51.1L363.9 54.5M360.5 54.5L363.9 51.1M362.2 51.1L362.2 54.5M361.7 51.4L365.1 54.8M361.7 54.8L365.1 51.4M363.4 51.4L363.4 54.8M362.8 50.8L366.2 54.2M362.8 54.2L366.2 50.8M364.5 50.8L364.5 54.2M364 51.7L367.4 55.1M364 55.1L367.4 51.7M365.7 51.7L365.7 55.1M365.1 51L368.5 54.4M365.1 54.4L368.5 51M366.8 51L366.8 54.4M366.3 50.8L369.7 54.2M366.3 54.2L369.7 50.8M368 50.8L368 54.2" stroke="#444" stroke-width="0.6" fill="none"/>
<polyline points="73.6,49.9 74.8,50 75.9,50.4 77.1,49.8 78.2,49.7 79.4,49.8 80.5,49.2 81.7,49.6 82.8,49.6 84,49.8 85.1,48.9 86.3,49 87.4,48.7 88.6,49.5 89.7,49.3 90.9,48.5 92,49.7 93.2,49.9 94.3,49.6 95.5,49.8 96.6,49.4 97.8,49.4 98.9,50.1 100.1,49.7 101.2,50 102.4,51.3 103.5,53.4 104.7,58.4 105.8,64.4 107,68.4 108.1,71.1 109.3,72 110.4,72.5 111.6,73.5 112.7,74.1 113.9,74.7 115,76.4 116.2,77.2 117.3,77.5 118.5,77.9 119.6,77.9 120.8,78.4 121.9,79 123.1,79.2 124.2,80.5 125.4,80.6 126.5,81.7 127.7,81.7 128.8,82.9 130,83.3 131.1,81.9 132.3,80.8 133.4,80.4 134.6,78.5 135.7,75.8 136.9,71.7 138,68.6 139.2,66.8 140.3,66.1 141.5,64.6 142.6,63.5 143.8,62.9 144.9,62.8 146.1,61.7 147.2,60.2 148.4,59.6 149.5,58.6 150.7,57.8 151.8,57.9 153,56.5 154.1,56.2 155.3,55.4 156.4,54.4 157.6,54.4 158.7,52.9 159.9,52.9 161,51.7 162.2,51.4 163.3,50.6 164.5,50 165.6,50.3 166.8,49.6 167.9,48.5 169.1,48.8 170.2,47.5 171.4,47.3 172.5,47.9 173.7,47.8 174.8,47.4 176,48.6 177.1,47.9 178.3,48.2 179.4,49 180.6,48.6 181.7,48.8 182.9,48.8 184,49 185.2,49.8 186.3,49.6 187.5,50.3 188.6,50.2 189.8,50.5 190.9,51.3 192.1,51 193.2,55.6 194.4,60.7 195.5,64.6 196.7,68.4 197.8,72.3 199,74.8 200.1,76.8 201.3,78.2 202.4,79.6 203.6,80.7 204.7,80.6 205.9,82.3 207,83 208.2,83 209.3,83.1 210.5,83.1 211.6,83.3 212.8,84.8 213.9,84.3 215.1,85.2 216.2,84.8 217.4,85 218.5,84.3 219.7,82.9 220.8,81.3 222,80.5 223.1,77.4 224.3,74.6 225.4,72.2 226.6,70.9 227.7,69 228.9,66.9 230,66.5 231.2,64.4 232.3,63 233.5,62.1 234.6,60.8 235.8,58.8 236.9,57.4 238.1,56.3 239.2,57.3 240.4,57.5 241.5,58.5 242.7,58.4 243.8,57.7 245,56.5 246.1,55.7 247.3,54.7 248.4,53.4 249.6,52.5 250.7,51.7 251.9,51.9 253,50.9 254.2,50.4 255.3,49 256.5,49.7 257.6,49.6 258.8,50 259.9,49.7 261.1,50.7 262.2,49.8 263.4,50.5 264.5,50.9 265.7,51.3 266.8,51.3 268,51.2 269.1,51.4 270.3,51.5 271.4,50.8 272.6,51.2 273.7,51.5 274.9,51.4 276,50.9 277.2,51.3 278.3,51.4 279.5,51.1 280.6,55.1 281.8,60.6 282.9,67.7 284.1,74.6 285.2,78.2 286.4,80.6 287.5,82.7 288.7,83.3 289.8,83.4 291,83.2 292.1,83.9 293.3,83.9 294.4,84 295.6,84.7 296.7,84.2 297.9,85.6 299,85.3 300.2,86.5 301.3,87 302.4,87.2 303.6,88.4 304.7,88.7 305.9,89.4 307,88.8 308.2,86.9 309.3,85.4 310.5,84.7 311.6,81.9 312.8,76.6 313.9,71.8 315.1,70.4 316.2,68.6 317.4,66.7 318.5,65.7 319.7,63.4 320.8,62.3 322,60.7 323.1,60.1 324.3,59.6 325.4,60.1 326.6,60.7 327.7,60.1 328.9,59.6 330,58.4 331.2,57.4 332.3,57 333.5,57.7 334.6,58 335.8,58.2 336.9,58.8 338.1,57.7 339.2,56.7 340.4,56 341.5,54.9 342.7,54.2 343.8,54.1 345,54 346.1,53.5 347.3,53 348.4,53.3 349.6,53 350.7,51.7 351.9,50.6 353,49.8 354.2,50.7 355.3,50.3 356.5,51.7 357.6,52.1 358.8,52.4 359.9,53.5 361.1,52.7 362.2,52.8 363.4,53.1 364.5,52.5 365.7,53.4 366.8,52.7 368,52.5" fill="none" stroke="#161616" stroke-width="1.7" stroke-linejoin="round"/>
<polyline points="73.6,51 91,50 101.8,52 102.6,55 103.4,59.7 105.9,78.6 106.7,89.3 108.3,98.3 111.6,108.2 116,113 120.7,117.2 126.2,126.5 128.4,128.1 132.3,123.2 133.4,118.6 134.4,111.6 135.5,107.3 138,96.7 140.4,87.6 143.7,79.4 147,72 151.9,63.8 158,56 165,52 181.4,51 189,52 190.5,62.1 193,76.1 194.6,99.1 196.2,109 197.5,116.6 199.5,118.9 206.3,124.6 216.5,125.4 222.4,121.7 223.9,114.4 225,104 226.7,95.8 230,88 236.1,79.7 243.5,69.7 249.9,56.9 253.8,51.4 267,52 279,52 279.7,58 281.3,84.4 283,104.1 285.4,112.3 287.5,115.8 291.2,122.2 294.9,124.6 302.2,123.9 308,123.2 309.3,122.2 311.7,115.8 313.4,104.1 315.9,94.2 319.2,87.6 324.1,81.1 329,72.8 335.6,65.4 342.2,58.9 353.7,56.4 369,55.6" fill="none" stroke="#777" stroke-width="0.6" />
<path d="M71.8 49.1h3.7v3.7h-3.7zM72.9 49.1h3.7v3.7h-3.7zM74.1 49h3.7v3.7h-3.7zM75.2 49h3.7v3.7h-3.7zM76.4 48.9h3.7v3.7h-3.7zM77.5 48.8h3.7v3.7h-3.7zM78.7 48.8h3.7v3.7h-3.7zM79.8 48.7h3.7v3.7h-3.7zM81 48.6h3.7v3.7h-3.7zM82.1 48.6h3.7v3.7h-3.7zM83.3 48.5h3.7v3.7h-3.7zM84.4 48.4h3.7v3.7h-3.7zM85.6 48.4h3.7v3.7h-3.7zM86.7 48.3h3.7v3.7h-3.7zM87.9 48.2h3.7v3.7h-3.7zM89 48.2h3.7v3.7h-3.7zM90.2 48.3h3.7v3.7h-3.7zM91.3 48.5h3.7v3.7h-3.7zM92.5 48.8h3.7v3.7h-3.7zM93.6 49h3.7v3.7h-3.7zM94.8 49.2h3.7v3.7h-3.7zM95.9 49.4h3.7v3.7h-3.7zM97.1 49.6h3.7v3.7h-3.7zM98.2 49.8h3.7v3.7h-3.7zM99.4 50h3.7v3.7h-3.7zM100.5 52.2h3.7v3.7h-3.7zM101.7 58.6h3.7v3.7h-3.7zM102.8 67.3h3.7v3.7h-3.7zM104 76h3.7v3.7h-3.7zM104.1 76.8h3.7v3.7h-3.7zM104.9 87.5h3.7v3.7h-3.7zM105.1 88.9h3.7v3.7h-3.7zM106.3 95.3h3.7v3.7h-3.7zM107.4 99.3h3.7v3.7h-3.7zM108.6 102.8h3.7v3.7h-3.7zM109.7 106.2h3.7v3.7h-3.7zM110.9 107.6h3.7v3.7h-3.7zM112 108.8h3.7v3.7h-3.7zM113.2 110.1h3.7v3.7h-3.7zM114.3 111.3h3.7v3.7h-3.7zM115.5 112.3h3.7v3.7h-3.7zM116.6 113.3h3.7v3.7h-3.7zM117.8 114.4h3.7v3.7h-3.7zM118.9 115.4h3.7v3.7h-3.7zM120.1 117.4h3.7v3.7h-3.7zM121.2 119.3h3.7v3.7h-3.7zM122.4 121.3h3.7v3.7h-3.7zM123.5 123.2h3.7v3.7h-3.7zM124.7 124.9h3.7v3.7h-3.7zM125.8 125.7h3.7v3.7h-3.7zM127 125.7h3.7v3.7h-3.7zM128.1 124.3h3.7v3.7h-3.7zM129.3 122.9h3.7v3.7h-3.7zM130.4 121.4h3.7v3.7h-3.7zM131.6 116.7h3.7v3.7h-3.7zM132.7 109.2h3.7v3.7h-3.7zM133.9 104.6h3.7v3.7h-3.7zM135 99.7h3.7v3.7h-3.7zM136.2 94.8h3.7v3.7h-3.7zM137.3 90.5h3.7v3.7h-3.7zM138.5 86.1h3.7v3.7h-3.7zM139.6 83.1h3.7v3.7h-3.7zM140.8 80.3h3.7v3.7h-3.7zM141.9 77.4h3.7v3.7h-3.7zM143.1 74.9h3.7v3.7h-3.7zM144.2 72.3h3.7v3.7h-3.7zM145.4 69.8h3.7v3.7h-3.7zM146.5 67.9h3.7v3.7h-3.7zM147.7 66h3.7v3.7h-3.7zM148.8 64h3.7v3.7h-3.7zM150 62.1h3.7v3.7h-3.7zM151.1 60.6h3.7v3.7h-3.7zM152.3 59.1h3.7v3.7h-3.7zM153.4 57.7h3.7v3.7h-3.7zM154.6 56.2h3.7v3.7h-3.7zM155.7 54.7h3.7v3.7h-3.7zM156.9 53.7h3.7v3.7h-3.7zM158 53.1h3.7v3.7h-3.7zM159.2 52.4h3.7v3.7h-3.7zM160.3 51.8h3.7v3.7h-3.7zM161.5 51.1h3.7v3.7h-3.7zM162.6 50.5h3.7v3.7h-3.7zM163.8 50.1h3.7v3.7h-3.7zM164.9 50h3.7v3.7h-3.7zM166.1 50h3.7v3.7h-3.7zM167.2 49.9h3.7v3.7h-3.7zM168.4 49.8h3.7v3.7h-3.7zM169.5 49.8h3.7v3.7h-3.7zM170.7 49.7h3.7v3.7h-3.7zM171.8 49.6h3.7v3.7h-3.7zM173 49.6h3.7v3.7h-3.7zM174.1 49.5h3.7v3.7h-3.7zM175.3 49.4h3.7v3.7h-3.7zM176.4 49.3h3.7v3.7h-3.7zM177.6 49.3h3.7v3.7h-3.7zM178.7 49.2h3.7v3.7h-3.7zM179.9 49.2h3.7v3.7h-3.7zM181 49.3h3.7v3.7h-3.7zM182.2 49.5h3.7v3.7h-3.7zM183.3 49.6h3.7v3.7h-3.7zM184.5 49.8h3.7v3.7h-3.7zM185.6 49.9h3.7v3.7h-3.7zM186.8 50.1h3.7v3.7h-3.7zM187.9 55.2h3.7v3.7h-3.7zM189.1 62.5h3.7v3.7h-3.7zM190.2 68.9h3.7v3.7h-3.7zM191.2 74.2h3.7v3.7h-3.7zM192.8 97.2h3.7v3.7h-3.7zM193.7 102.8h3.7v3.7h-3.7zM194.8 109.8h3.7v3.7h-3.7zM196 115.1h3.7v3.7h-3.7zM197.1 116.4h3.7v3.7h-3.7zM198.3 117.6h3.7v3.7h-3.7zM199.4 118.5h3.7v3.7h-3.7zM200.6 119.5h3.7v3.7h-3.7zM201.7 120.4h3.7v3.7h-3.7zM202.9 121.4h3.7v3.7h-3.7zM204 122.4h3.7v3.7h-3.7zM205.2 122.8h3.7v3.7h-3.7zM206.3 122.9h3.7v3.7h-3.7zM207.5 123h3.7v3.7h-3.7zM208.6 123.1h3.7v3.7h-3.7zM209.8 123.2h3.7v3.7h-3.7zM210.9 123.3h3.7v3.7h-3.7zM212.1 123.3h3.7v3.7h-3.7zM213.2 123.4h3.7v3.7h-3.7zM214.4 123.5h3.7v3.7h-3.7zM215.5 123h3.7v3.7h-3.7zM216.7 122.3h3.7v3.7h-3.7zM217.8 121.6h3.7v3.7h-3.7zM219 120.9h3.7v3.7h-3.7zM220.1 120.1h3.7v3.7h-3.7zM221.3 116.4h3.7v3.7h-3.7zM222.4 109.2h3.7v3.7h-3.7zM223.6 100.2h3.7v3.7h-3.7zM224.7 94.7h3.7v3.7h-3.7zM225.9 91.6h3.7v3.7h-3.7zM227 88.9h3.7v3.7h-3.7zM228.2 86.1h3.7v3.7h-3.7zM229.3 84.6h3.7v3.7h-3.7zM230.5 83h3.7v3.7h-3.7zM231.6 81.5h3.7v3.7h-3.7zM232.8 79.9h3.7v3.7h-3.7zM233.9 78.3h3.7v3.7h-3.7zM235.1 76.8h3.7v3.7h-3.7zM236.2 75.2h3.7v3.7h-3.7zM237.4 73.7h3.7v3.7h-3.7zM238.5 72.1h3.7v3.7h-3.7zM239.7 70.6h3.7v3.7h-3.7zM240.8 69h3.7v3.7h-3.7zM242 67.2h3.7v3.7h-3.7zM243.1 64.9h3.7v3.7h-3.7zM244.3 62.6h3.7v3.7h-3.7zM245.4 60.3h3.7v3.7h-3.7zM246.6 58h3.7v3.7h-3.7zM247.7 55.7h3.7v3.7h-3.7zM248.9 53.9h3.7v3.7h-3.7zM250 52.3h3.7v3.7h-3.7zM251.2 50.7h3.7v3.7h-3.7zM252.3 49.6h3.7v3.7h-3.7zM253.5 49.6h3.7v3.7h-3.7zM254.6 49.7h3.7v3.7h-3.7zM255.8 49.7h3.7v3.7h-3.7zM256.9 49.8h3.7v3.7h-3.7zM258.1 49.8h3.7v3.7h-3.7zM259.2 49.9h3.7v3.7h-3.7zM260.4 49.9h3.7v3.7h-3.7zM261.5 50h3.7v3.7h-3.7zM262.7 50h3.7v3.7h-3.7zM263.8 50.1h3.7v3.7h-3.7zM265 50.1h3.7v3.7h-3.7zM266.1 50.1h3.7v3.7h-3.7zM267.3 50.1h3.7v3.7h-3.7zM268.4 50.1h3.7v3.7h-3.7zM269.6 50.1h3.7v3.7h-3.7zM270.7 50.1h3.7v3.7h-3.7zM271.9 50.1h3.7v3.7h-3.7zM273 50.1h3.7v3.7h-3.7zM274.2 50.1h3.7v3.7h-3.7zM275.3 50.1h3.7v3.7h-3.7zM276.5 50.1h3.7v3.7h-3.7zM277.6 54h3.7v3.7h-3.7zM277.8 56.1h3.7v3.7h-3.7zM279.4 82.6h3.7v3.7h-3.7zM279.4 82.6h3.7v3.7h-3.7zM281.1 102.2h3.7v3.7h-3.7zM282.2 105.8h3.7v3.7h-3.7zM283.4 109.8h3.7v3.7h-3.7zM284.5 112h3.7v3.7h-3.7zM285.7 114h3.7v3.7h-3.7zM286.8 115.9h3.7v3.7h-3.7zM288 117.9h3.7v3.7h-3.7zM289.1 119.9h3.7v3.7h-3.7zM290.3 120.9h3.7v3.7h-3.7zM291.4 121.7h3.7v3.7h-3.7zM292.6 122.4h3.7v3.7h-3.7zM293.7 122.7h3.7v3.7h-3.7zM294.9 122.6h3.7v3.7h-3.7zM296 122.5h3.7v3.7h-3.7zM297.2 122.4h3.7v3.7h-3.7zM298.3 122.2h3.7v3.7h-3.7zM299.4 122.1h3.7v3.7h-3.7zM300.6 122h3.7v3.7h-3.7zM301.7 121.9h3.7v3.7h-3.7zM302.9 121.7h3.7v3.7h-3.7zM304 121.6h3.7v3.7h-3.7zM305.2 121.5h3.7v3.7h-3.7zM306.3 121.2h3.7v3.7h-3.7zM307.5 120.2h3.7v3.7h-3.7zM308.6 117.2h3.7v3.7h-3.7zM309.8 114.1h3.7v3.7h-3.7zM310.9 106.4h3.7v3.7h-3.7zM312.1 100.1h3.7v3.7h-3.7zM313.2 95.5h3.7v3.7h-3.7zM314.4 91.7h3.7v3.7h-3.7zM315.5 89.4h3.7v3.7h-3.7zM316.7 87.1h3.7v3.7h-3.7zM317.8 85.1h3.7v3.7h-3.7zM319 83.6h3.7v3.7h-3.7zM320.1 82h3.7v3.7h-3.7zM321.3 80.5h3.7v3.7h-3.7zM322.4 78.9h3.7v3.7h-3.7zM323.6 77h3.7v3.7h-3.7zM324.7 75h3.7v3.7h-3.7zM325.9 73.1h3.7v3.7h-3.7zM327 71.1h3.7v3.7h-3.7zM328.2 69.8h3.7v3.7h-3.7zM329.3 68.5h3.7v3.7h-3.7zM330.5 67.2h3.7v3.7h-3.7zM331.6 65.9h3.7v3.7h-3.7zM332.8 64.6h3.7v3.7h-3.7zM333.9 63.4h3.7v3.7h-3.7zM335.1 62.2h3.7v3.7h-3.7zM336.2 61.1h3.7v3.7h-3.7zM337.4 60h3.7v3.7h-3.7zM338.5 58.8h3.7v3.7h-3.7zM339.7 57.7h3.7v3.7h-3.7zM340.8 56.9h3.7v3.7h-3.7zM342 56.7h3.7v3.7h-3.7zM343.1 56.4h3.7v3.7h-3.7zM344.3 56.2h3.7v3.7h-3.7zM345.4 55.9h3.7v3.7h-3.7zM346.6 55.7h3.7v3.7h-3.7zM347.7 55.4h3.7v3.7h-3.7zM348.9 55.2h3.7v3.7h-3.7zM350 54.9h3.7v3.7h-3.7zM351.2 54.7h3.7v3.7h-3.7zM352.3 54.5h3.7v3.7h-3.7zM353.5 54.5h3.7v3.7h-3.7zM354.6 54.4h3.7v3.7h-3.7zM355.8 54.3h3.7v3.7h-3.7zM356.9 54.3h3.7v3.7h-3.7zM358.1 54.2h3.7v3.7h-3.7zM359.2 54.2h3.7v3.7h-3.7zM360.4 54.1h3.7v3.7h-3.7zM361.5 54h3.7v3.7h-3.7zM362.7 54h3.7v3.7h-3.7zM363.8 53.9h3.7v3.7h-3.7zM365 53.9h3.7v3.7h-3.7zM366.1 53.8h3.7v3.7h-3.7z" stroke="#5a5a5a" stroke-width="0.7" fill="#fff"/>
<polyline points="73.6,47.6 80,47.3 91,46.3 98,47 101.5,49 102.3,52.3 103.1,70.4 103.9,95 105,123 106.2,149 107.3,161.6 108.3,167 113.6,170.1 117.7,173.2 121.3,176.3 125.9,175.3 130.6,177.3 133.7,175.8 135.2,171.1 136,164.4 137.2,155.9 138.3,146.8 139.4,138 140.5,129.8 141.6,123 143,115 144,109.8 146.5,98.3 147.8,91.7 149,86.8 151,74.5 153.6,67 157,60 161.8,53 171.6,49 183,49.5 190.5,50.6 191.3,54.7 193,69.5 194.3,90.9 195.1,117.2 196.4,144.8 197.5,161.5 198.7,172.9 199.7,178.7 203.4,181.6 212.2,183.1 218,186 222.4,187.5 225.3,184.6 227.1,178.7 228.2,172.1 229.4,164.8 230.4,158.2 231.5,152.4 232.9,146.5 234.4,139.2 235.1,131.9 237,123.9 238.2,115.6 239,106.5 240.3,100.8 241.1,95.8 242.3,90.9 243.6,86 244.7,81 246.4,74.5 247.2,69.5 249.7,61.3 252.1,54.7 257,50.6 267,50.6 279.7,49.8 280.5,62.1 281.3,78.6 283,97.5 283.9,118.5 285.1,132.7 286.4,144.8 287.3,150.9 288.3,156 289.3,161.9 291.2,168.5 293.4,174.3 297,180.2 300.7,182.4 306.5,181.6 312.4,183.1 315.3,181.6 317.1,175.8 318.2,167.7 319.7,158.2 320.4,149.2 321.5,141.4 322.9,135.6 324.1,128.7 325.6,123.2 327,117.3 328.2,112.6 329,102.5 331,92.6 333.1,82.7 335.6,74.5 337.3,67.1 342.2,61.3 347.1,58.9 353.7,58 361.9,59.7 369,59.7" fill="none" stroke="#555" stroke-width="0.7" />
<path d="M71.7 45.7h3.8v3.8h-3.8zM72.8 45.6h3.8v3.8h-3.8zM73.9 45.6h3.8v3.8h-3.8zM75 45.5h3.8v3.8h-3.8zM76.1 45.5h3.8v3.8h-3.8zM77.2 45.4h3.8v3.8h-3.8zM78.3 45.4h3.8v3.8h-3.8zM79.4 45.3h3.8v3.8h-3.8zM80.5 45.2h3.8v3.8h-3.8zM81.6 45.1h3.8v3.8h-3.8zM82.7 45h3.8v3.8h-3.8zM83.8 44.9h3.8v3.8h-3.8zM84.9 44.8h3.8v3.8h-3.8zM86 44.7h3.8v3.8h-3.8zM87.1 44.6h3.8v3.8h-3.8zM88.2 44.5h3.8v3.8h-3.8zM89.3 44.4h3.8v3.8h-3.8zM90.4 44.5h3.8v3.8h-3.8zM91.5 44.6h3.8v3.8h-3.8zM92.6 44.7h3.8v3.8h-3.8zM93.7 44.9h3.8v3.8h-3.8zM94.8 45h3.8v3.8h-3.8zM95.9 45.1h3.8v3.8h-3.8zM97 45.6h3.8v3.8h-3.8zM98.1 46.2h3.8v3.8h-3.8zM99.2 46.9h3.8v3.8h-3.8zM100.3 50h3.8v3.8h-3.8zM100.4 50.4h3.8v3.8h-3.8zM101.2 68.5h3.8v3.8h-3.8zM101.2 68.5h3.8v3.8h-3.8zM102 93.1h3.8v3.8h-3.8zM102 93.1h3.8v3.8h-3.8zM103.1 121.1h3.8v3.8h-3.8zM103.1 121.1h3.8v3.8h-3.8zM104.3 147.1h3.8v3.8h-3.8zM104.3 147.1h3.8v3.8h-3.8zM105.4 159.7h3.8v3.8h-3.8zM105.8 161.9h3.8v3.8h-3.8zM106.9 165.4h3.8v3.8h-3.8zM108 166h3.8v3.8h-3.8zM109.1 166.7h3.8v3.8h-3.8zM110.2 167.3h3.8v3.8h-3.8zM111.3 168h3.8v3.8h-3.8zM112.4 168.7h3.8v3.8h-3.8zM113.5 169.6h3.8v3.8h-3.8zM114.6 170.4h3.8v3.8h-3.8zM115.7 171.2h3.8v3.8h-3.8zM116.8 172.2h3.8v3.8h-3.8zM117.9 173.1h3.8v3.8h-3.8zM119 174.1h3.8v3.8h-3.8zM120.1 174.2h3.8v3.8h-3.8zM121.2 174h3.8v3.8h-3.8zM122.3 173.8h3.8v3.8h-3.8zM123.4 173.5h3.8v3.8h-3.8zM124.5 173.6h3.8v3.8h-3.8zM125.6 174.1h3.8v3.8h-3.8zM126.7 174.5h3.8v3.8h-3.8zM127.8 175h3.8v3.8h-3.8zM128.9 175.3h3.8v3.8h-3.8zM130 174.8h3.8v3.8h-3.8zM131.1 174.2h3.8v3.8h-3.8zM132.2 172.6h3.8v3.8h-3.8zM133.3 169.2h3.8v3.8h-3.8zM134.4 160.4h3.8v3.8h-3.8zM135.5 152.3h3.8v3.8h-3.8zM136.6 143.3h3.8v3.8h-3.8zM137.7 134.6h3.8v3.8h-3.8zM138.8 126.7h3.8v3.8h-3.8zM139.9 120h3.8v3.8h-3.8zM141 113.7h3.8v3.8h-3.8zM142.1 107.9h3.8v3.8h-3.8zM143.2 102.8h3.8v3.8h-3.8zM144.3 97.8h3.8v3.8h-3.8zM145.4 92.3h3.8v3.8h-3.8zM146.5 87.4h3.8v3.8h-3.8zM147.6 81.8h3.8v3.8h-3.8zM148.7 75.1h3.8v3.8h-3.8zM149.8 70.6h3.8v3.8h-3.8zM150.9 67.4h3.8v3.8h-3.8zM152 64.5h3.8v3.8h-3.8zM153.1 62.2h3.8v3.8h-3.8zM154.2 60h3.8v3.8h-3.8zM155.3 57.8h3.8v3.8h-3.8zM156.4 56.2h3.8v3.8h-3.8zM157.5 54.6h3.8v3.8h-3.8zM158.6 53h3.8v3.8h-3.8zM159.7 51.4h3.8v3.8h-3.8zM160.8 50.7h3.8v3.8h-3.8zM161.9 50.3h3.8v3.8h-3.8zM163 49.8h3.8v3.8h-3.8zM164.1 49.4h3.8v3.8h-3.8zM165.2 48.9h3.8v3.8h-3.8zM166.3 48.5h3.8v3.8h-3.8zM167.4 48h3.8v3.8h-3.8zM168.5 47.6h3.8v3.8h-3.8zM169.6 47.1h3.8v3.8h-3.8zM170.7 47.1h3.8v3.8h-3.8zM171.8 47.2h3.8v3.8h-3.8zM172.9 47.2h3.8v3.8h-3.8zM174 47.3h3.8v3.8h-3.8zM175.1 47.3h3.8v3.8h-3.8zM176.2 47.4h3.8v3.8h-3.8zM177.3 47.4h3.8v3.8h-3.8zM178.4 47.5h3.8v3.8h-3.8zM179.5 47.5h3.8v3.8h-3.8zM180.6 47.6h3.8v3.8h-3.8zM181.7 47.7h3.8v3.8h-3.8zM182.8 47.8h3.8v3.8h-3.8zM183.9 48h3.8v3.8h-3.8zM185 48.2h3.8v3.8h-3.8zM186.1 48.3h3.8v3.8h-3.8zM187.2 48.5h3.8v3.8h-3.8zM188.3 48.7h3.8v3.8h-3.8zM189.4 52.8h3.8v3.8h-3.8zM190.5 62.4h3.8v3.8h-3.8zM191.1 67.6h3.8v3.8h-3.8zM192.4 89h3.8v3.8h-3.8zM192.4 89h3.8v3.8h-3.8zM193.2 115.3h3.8v3.8h-3.8zM193.2 115.3h3.8v3.8h-3.8zM194.5 142.9h3.8v3.8h-3.8zM194.5 142.9h3.8v3.8h-3.8zM195.6 159.6h3.8v3.8h-3.8zM196 163.4h3.8v3.8h-3.8zM197.1 172.7h3.8v3.8h-3.8zM198.2 177.1h3.8v3.8h-3.8zM199.3 178h3.8v3.8h-3.8zM200.4 178.8h3.8v3.8h-3.8zM201.5 179.7h3.8v3.8h-3.8zM202.6 179.9h3.8v3.8h-3.8zM203.7 180.1h3.8v3.8h-3.8zM204.8 180.3h3.8v3.8h-3.8zM205.9 180.4h3.8v3.8h-3.8zM207 180.6h3.8v3.8h-3.8zM208.1 180.8h3.8v3.8h-3.8zM209.2 181h3.8v3.8h-3.8zM210.3 181.2h3.8v3.8h-3.8zM211.4 181.7h3.8v3.8h-3.8zM212.5 182.3h3.8v3.8h-3.8zM213.6 182.8h3.8v3.8h-3.8zM214.7 183.4h3.8v3.8h-3.8zM215.8 183.9h3.8v3.8h-3.8zM216.9 184.4h3.8v3.8h-3.8zM218 184.7h3.8v3.8h-3.8zM219.1 185.1h3.8v3.8h-3.8zM220.2 185.5h3.8v3.8h-3.8zM221.3 184.8h3.8v3.8h-3.8zM222.4 183.7h3.8v3.8h-3.8zM223.5 182.4h3.8v3.8h-3.8zM224.6 178.8h3.8v3.8h-3.8zM225.7 173.8h3.8v3.8h-3.8zM226.8 167.2h3.8v3.8h-3.8zM227.9 160.3h3.8v3.8h-3.8zM229 153.7h3.8v3.8h-3.8zM230.1 148.4h3.8v3.8h-3.8zM231.2 143.6h3.8v3.8h-3.8zM232.3 138.3h3.8v3.8h-3.8zM232.5 137.3h3.8v3.8h-3.8zM233.2 130h3.8v3.8h-3.8zM233.4 129.2h3.8v3.8h-3.8zM234.5 124.5h3.8v3.8h-3.8zM235.6 118.5h3.8v3.8h-3.8zM236.3 113.7h3.8v3.8h-3.8zM237.1 104.6h3.8v3.8h-3.8zM237.8 101.5h3.8v3.8h-3.8zM238.9 95.8h3.8v3.8h-3.8zM240 90.6h3.8v3.8h-3.8zM241.1 86.4h3.8v3.8h-3.8zM242.2 81.8h3.8v3.8h-3.8zM243.3 77.2h3.8v3.8h-3.8zM244.4 73h3.8v3.8h-3.8zM245.5 66.9h3.8v3.8h-3.8zM246.6 63.3h3.8v3.8h-3.8zM247.7 59.7h3.8v3.8h-3.8zM248.8 56.7h3.8v3.8h-3.8zM249.9 53.6h3.8v3.8h-3.8zM251 52.1h3.8v3.8h-3.8zM252.1 51.2h3.8v3.8h-3.8zM253.2 50.3h3.8v3.8h-3.8zM254.3 49.4h3.8v3.8h-3.8zM255.4 48.7h3.8v3.8h-3.8zM256.5 48.7h3.8v3.8h-3.8zM257.6 48.7h3.8v3.8h-3.8zM258.7 48.7h3.8v3.8h-3.8zM259.8 48.7h3.8v3.8h-3.8zM260.9 48.7h3.8v3.8h-3.8zM262 48.7h3.8v3.8h-3.8zM263.1 48.7h3.8v3.8h-3.8zM264.2 48.7h3.8v3.8h-3.8zM265.3 48.7h3.8v3.8h-3.8zM266.4 48.6h3.8v3.8h-3.8zM267.5 48.5h3.8v3.8h-3.8zM268.6 48.5h3.8v3.8h-3.8zM269.7 48.4h3.8v3.8h-3.8zM270.8 48.3h3.8v3.8h-3.8zM271.9 48.3h3.8v3.8h-3.8zM273 48.2h3.8v3.8h-3.8zM274.1 48.1h3.8v3.8h-3.8zM275.2 48.1h3.8v3.8h-3.8zM276.3 48h3.8v3.8h-3.8zM277.4 47.9h3.8v3.8h-3.8zM277.8 47.9h3.8v3.8h-3.8zM278.6 60.2h3.8v3.8h-3.8zM278.6 60.2h3.8v3.8h-3.8zM279.4 76.7h3.8v3.8h-3.8zM279.4 76.7h3.8v3.8h-3.8zM281.1 95.6h3.8v3.8h-3.8zM281.1 95.6h3.8v3.8h-3.8zM282 116.6h3.8v3.8h-3.8zM282 116.6h3.8v3.8h-3.8zM283.2 130.8h3.8v3.8h-3.8zM284 138.2h3.8v3.8h-3.8zM285.1 147h3.8v3.8h-3.8zM286.2 153.1h3.8v3.8h-3.8zM287.3 159.4h3.8v3.8h-3.8zM288.4 163.5h3.8v3.8h-3.8zM289.5 167.1h3.8v3.8h-3.8zM290.6 170h3.8v3.8h-3.8zM291.7 172.7h3.8v3.8h-3.8zM292.8 174.5h3.8v3.8h-3.8zM293.9 176.3h3.8v3.8h-3.8zM295 178.1h3.8v3.8h-3.8zM296.1 178.9h3.8v3.8h-3.8zM297.2 179.5h3.8v3.8h-3.8zM298.3 180.2h3.8v3.8h-3.8zM299.4 180.4h3.8v3.8h-3.8zM300.5 180.3h3.8v3.8h-3.8zM301.6 180.1h3.8v3.8h-3.8zM302.7 180h3.8v3.8h-3.8zM303.8 179.8h3.8v3.8h-3.8zM304.9 179.8h3.8v3.8h-3.8zM306 180.1h3.8v3.8h-3.8zM307.1 180.3h3.8v3.8h-3.8zM308.2 180.6h3.8v3.8h-3.8zM309.3 180.9h3.8v3.8h-3.8zM310.4 181.2h3.8v3.8h-3.8zM311.5 180.7h3.8v3.8h-3.8zM312.6 180.1h3.8v3.8h-3.8zM313.7 178.7h3.8v3.8h-3.8zM314.8 175.2h3.8v3.8h-3.8zM315.9 168.7h3.8v3.8h-3.8zM317 161.4h3.8v3.8h-3.8zM317.8 156.3h3.8v3.8h-3.8zM318.5 147.3h3.8v3.8h-3.8zM319.2 142.3h3.8v3.8h-3.8zM320.3 136.6h3.8v3.8h-3.8zM321.4 131.4h3.8v3.8h-3.8zM322.5 125.7h3.8v3.8h-3.8zM323.6 121.7h3.8v3.8h-3.8zM324.7 117.1h3.8v3.8h-3.8zM325.8 112.7h3.8v3.8h-3.8zM326.3 110.7h3.8v3.8h-3.8zM327.1 100.6h3.8v3.8h-3.8zM328 96.1h3.8v3.8h-3.8zM329.1 90.7h3.8v3.8h-3.8zM330.2 85.5h3.8v3.8h-3.8zM331.3 80.5h3.8v3.8h-3.8zM332.4 76.9h3.8v3.8h-3.8zM333.5 73.3h3.8v3.8h-3.8zM334.6 68.7h3.8v3.8h-3.8zM335.7 64.8h3.8v3.8h-3.8zM336.8 63.5h3.8v3.8h-3.8zM337.9 62.2h3.8v3.8h-3.8zM339 60.9h3.8v3.8h-3.8zM340.1 59.6h3.8v3.8h-3.8zM341.2 59h3.8v3.8h-3.8zM342.3 58.4h3.8v3.8h-3.8zM343.4 57.9h3.8v3.8h-3.8zM344.5 57.3h3.8v3.8h-3.8zM345.6 56.9h3.8v3.8h-3.8zM346.7 56.8h3.8v3.8h-3.8zM347.8 56.6h3.8v3.8h-3.8zM348.9 56.5h3.8v3.8h-3.8zM350 56.3h3.8v3.8h-3.8zM351.1 56.2h3.8v3.8h-3.8zM352.2 56.2h3.8v3.8h-3.8zM353.3 56.4h3.8v3.8h-3.8zM354.4 56.6h3.8v3.8h-3.8zM355.5 56.9h3.8v3.8h-3.8zM356.6 57.1h3.8v3.8h-3.8zM357.7 57.3h3.8v3.8h-3.8zM358.8 57.6h3.8v3.8h-3.8zM359.9 57.8h3.8v3.8h-3.8zM361 57.8h3.8v3.8h-3.8zM362.1 57.8h3.8v3.8h-3.8zM363.2 57.8h3.8v3.8h-3.8zM364.3 57.8h3.8v3.8h-3.8zM365.4 57.8h3.8v3.8h-3.8zM366.5 57.8h3.8v3.8h-3.8z" fill="#050505"/>
<rect x="73.6" y="16" width="295.8" height="215.5" fill="none" stroke="#1a1a1a" stroke-width="1.6"/>
<rect x="125.4" y="19.8" width="241.3" height="12.4" fill="#fff" stroke="#333" stroke-width="1.1"/>
<path d="M147.6 26.4H172.8M218 26.4H242.3M287.8 26.4H312.2" stroke="#333" stroke-width="0.8"/>
<path d="M157.9 24.1L162.5 28.7M157.9 28.7L162.5 24.1M160.2 24.1L160.2 28.7" stroke="#111" stroke-width="0.9" fill="none"/>
<rect x="228" y="24.7" width="3.4" height="3.4" fill="#fff" stroke="#222" stroke-width="0.8"/>
<rect x="298" y="24.4" width="4" height="4" fill="#111"/>
<text x="176.1" y="30.2" font-family="Liberation Sans" font-size="10.5" font-weight="normal" text-anchor="start" fill="#222" textLength="35.7" lengthAdjust="spacingAndGlyphs">10 ppm</text>
<text x="245.4" y="30.2" font-family="Liberation Sans" font-size="10.5" font-weight="normal" text-anchor="start" fill="#222" textLength="36.4" lengthAdjust="spacingAndGlyphs">50 ppm</text>
<text x="315.7" y="30.2" font-family="Liberation Sans" font-size="10.5" font-weight="normal" text-anchor="start" fill="#222" textLength="41.7" lengthAdjust="spacingAndGlyphs">100 ppm</text>
<text x="62.9" y="19.4" font-family="Liberation Sans" font-size="9.5" font-weight="bold" text-anchor="end" fill="#1a1a1a" textLength="29.8" lengthAdjust="spacingAndGlyphs" stroke="#1a1a1a" stroke-width="0.3">7.6x10</text>
<text x="63.6" y="15" font-family="Liberation Sans" font-size="8.6" font-weight="normal" text-anchor="start" fill="#1a1a1a" textLength="5.6" lengthAdjust="spacingAndGlyphs">5</text>
<text x="62.9" y="39.9" font-family="Liberation Sans" font-size="9.5" font-weight="bold" text-anchor="end" fill="#1a1a1a" textLength="29.8" lengthAdjust="spacingAndGlyphs" stroke="#1a1a1a" stroke-width="0.3">7.4x10</text>
<text x="63.6" y="35.5" font-family="Liberation Sans" font-size="8.6" font-weight="normal" text-anchor="start" fill="#1a1a1a" textLength="5.6" lengthAdjust="spacingAndGlyphs">5</text>
<text x="62.9" y="60.4" font-family="Liberation Sans" font-size="9.5" font-weight="bold" text-anchor="end" fill="#1a1a1a" textLength="29.8" lengthAdjust="spacingAndGlyphs" stroke="#1a1a1a" stroke-width="0.3">7.2x10</text>
<text x="63.6" y="56" font-family="Liberation Sans" font-size="8.6" font-weight="normal" text-anchor="start" fill="#1a1a1a" textLength="5.6" lengthAdjust="spacingAndGlyphs">5</text>
<text x="62.9" y="81" font-family="Liberation Sans" font-size="9.5" font-weight="bold" text-anchor="end" fill="#1a1a1a" textLength="29.8" lengthAdjust="spacingAndGlyphs" stroke="#1a1a1a" stroke-width="0.3">7.0x10</text>
<text x="63.6" y="76.6" font-family="Liberation Sans" font-size="8.6" font-weight="normal" text-anchor="start" fill="#1a1a1a" textLength="5.6" lengthAdjust="spacingAndGlyphs">5</text>
<text x="62.9" y="101.5" font-family="Liberation Sans" font-size="9.5" font-weight="bold" text-anchor="end" fill="#1a1a1a" textLength="29.8" lengthAdjust="spacingAndGlyphs" stroke="#1a1a1a" stroke-width="0.3">6.8x10</text>
<text x="63.6" y="97.1" font-family="Liberation Sans" font-size="8.6" font-weight="normal" text-anchor="start" fill="#1a1a1a" textLength="5.6" lengthAdjust="spacingAndGlyphs">5</text>
<text x="62.9" y="122" font-family="Liberation Sans" font-size="9.5" font-weight="bold" text-anchor="end" fill="#1a1a1a" textLength="29.8" lengthAdjust="spacingAndGlyphs" stroke="#1a1a1a" stroke-width="0.3">6.6x10</text>
<text x="63.6" y="117.6" font-family="Liberation Sans" font-size="8.6" font-weight="normal" text-anchor="start" fill="#1a1a1a" textLength="5.6" lengthAdjust="spacingAndGlyphs">5</text>
<text x="62.9" y="142.5" font-family="Liberation Sans" font-size="9.5" font-weight="bold" text-anchor="end" fill="#1a1a1a" textLength="29.8" lengthAdjust="spacingAndGlyphs" stroke="#1a1a1a" stroke-width="0.3">6.4x10</text>
<text x="63.6" y="138.1" font-family="Liberation Sans" font-size="8.6" font-weight="normal" text-anchor="start" fill="#1a1a1a" textLength="5.6" lengthAdjust="spacingAndGlyphs">5</text>
<text x="62.9" y="163.1" font-family="Liberation Sans" font-size="9.5" font-weight="bold" text-anchor="end" fill="#1a1a1a" textLength="29.8" lengthAdjust="spacingAndGlyphs" stroke="#1a1a1a" stroke-width="0.3">6.2x10</text>
<text x="63.6" y="158.7" font-family="Liberation Sans" font-size="8.6" font-weight="normal" text-anchor="start" fill="#1a1a1a" textLength="5.6" lengthAdjust="spacingAndGlyphs">5</text>
<text x="62.9" y="183.6" font-family="Liberation Sans" font-size="9.5" font-weight="bold" text-anchor="end" fill="#1a1a1a" textLength="29.8" lengthAdjust="spacingAndGlyphs" stroke="#1a1a1a" stroke-width="0.3">6.0x10</text>
<text x="63.6" y="179.2" font-family="Liberation Sans" font-size="8.6" font-weight="normal" text-anchor="start" fill="#1a1a1a" textLength="5.6" lengthAdjust="spacingAndGlyphs">5</text>
<text x="62.9" y="204.1" font-family="Liberation Sans" font-size="9.5" font-weight="bold" text-anchor="end" fill="#1a1a1a" textLength="29.8" lengthAdjust="spacingAndGlyphs" stroke="#1a1a1a" stroke-width="0.3">5.8x10</text>
<text x="63.6" y="199.7" font-family="Liberation Sans" font-size="8.6" font-weight="normal" text-anchor="start" fill="#1a1a1a" textLength="5.6" lengthAdjust="spacingAndGlyphs">5</text>
<text x="62.9" y="224.6" font-family="Liberation Sans" font-size="9.5" font-weight="bold" text-anchor="end" fill="#1a1a1a" textLength="29.8" lengthAdjust="spacingAndGlyphs" stroke="#1a1a1a" stroke-width="0.3">5.6x10</text>
<text x="63.6" y="220.2" font-family="Liberation Sans" font-size="8.6" font-weight="normal" text-anchor="start" fill="#1a1a1a" textLength="5.6" lengthAdjust="spacingAndGlyphs">5</text>
<text x="73.6" y="244.6" font-family="Liberation Sans" font-size="10" font-weight="bold" text-anchor="middle" fill="#1a1a1a"  stroke="#1a1a1a" stroke-width="0.3">0</text>
<text x="122.9" y="244.6" font-family="Liberation Sans" font-size="10" font-weight="bold" text-anchor="middle" fill="#1a1a1a"  stroke="#1a1a1a" stroke-width="0.3">1000</text>
<text x="172.2" y="244.6" font-family="Liberation Sans" font-size="10" font-weight="bold" text-anchor="middle" fill="#1a1a1a"  stroke="#1a1a1a" stroke-width="0.3">2000</text>
<text x="221.5" y="244.6" font-family="Liberation Sans" font-size="10" font-weight="bold" text-anchor="middle" fill="#1a1a1a"  stroke="#1a1a1a" stroke-width="0.3">3000</text>
<text x="270.8" y="244.6" font-family="Liberation Sans" font-size="10" font-weight="bold" text-anchor="middle" fill="#1a1a1a"  stroke="#1a1a1a" stroke-width="0.3">4000</text>
<text x="320.1" y="244.6" font-family="Liberation Sans" font-size="10" font-weight="bold" text-anchor="middle" fill="#1a1a1a"  stroke="#1a1a1a" stroke-width="0.3">5000</text>
<text x="369.4" y="244.6" font-family="Liberation Sans" font-size="10" font-weight="bold" text-anchor="middle" fill="#1a1a1a"  stroke="#1a1a1a" stroke-width="0.3">6000</text>
<text x="221.4" y="258.1" font-family="Liberation Sans" font-size="10.5" font-weight="bold" text-anchor="middle" fill="#1a1a1a" textLength="40.5" lengthAdjust="spacingAndGlyphs" stroke="#1a1a1a" stroke-width="0.3">Time (s)</text>
<text x="0" y="0" font-family="Liberation Sans" font-size="10.3" font-weight="bold" text-anchor="middle" fill="#1a1a1a" transform="translate(26.5 123.8) rotate(-90)" textLength="73.7" lengthAdjust="spacingAndGlyphs" stroke="#1a1a1a" stroke-width="0.3">Resistance (&#937;)</text>
<text x="88.5" y="220" font-family="Liberation Sans" font-size="10" font-weight="bold" text-anchor="middle" fill="#1a1a1a"  stroke="#1a1a1a" stroke-width="0.3">Air</text>
<text x="163.6" y="220" font-family="Liberation Sans" font-size="10" font-weight="bold" text-anchor="middle" fill="#1a1a1a"  stroke="#1a1a1a" stroke-width="0.3">Air</text>
<text x="257.2" y="220" font-family="Liberation Sans" font-size="10" font-weight="bold" text-anchor="middle" fill="#1a1a1a"  stroke="#1a1a1a" stroke-width="0.3">Air</text>
<text x="345.6" y="220" font-family="Liberation Sans" font-size="10" font-weight="bold" text-anchor="middle" fill="#1a1a1a"  stroke="#1a1a1a" stroke-width="0.3">Air</text>
<text x="106.7" y="208.9" font-family="Liberation Sans" font-size="10" font-weight="bold" fill="#1a1a1a">NO<tspan dy="3.6" font-size="9" font-weight="normal">2</tspan></text>
<text x="197.9" y="208.9" font-family="Liberation Sans" font-size="10" font-weight="bold" fill="#1a1a1a">NO<tspan dy="3.6" font-size="9" font-weight="normal">2</tspan></text>
<text x="286.3" y="208.9" font-family="Liberation Sans" font-size="10" font-weight="bold" fill="#1a1a1a">NO<tspan dy="3.6" font-size="9" font-weight="normal">2</tspan></text>
<text x="4.8" y="23.5" font-family="Liberation Serif" font-size="18" font-weight="bold" text-anchor="start" fill="#111" >(a)</text>
<g stroke="#444" stroke-width="1.2" fill="none">
<path d="M68.3 488.3H72.8"/>
<path d="M68.3 458.9H72.8"/>
<path d="M68.3 429.5H72.8"/>
<path d="M68.3 400.1H72.8"/>
<path d="M68.3 370.8H72.8"/>
<path d="M68.3 341.4H72.8"/>
<path d="M68.3 312H72.8"/>
<path d="M68.3 282.6H72.8"/>
<path d="M70.3 473.6H72.8"/>
<path d="M70.3 444.2H72.8"/>
<path d="M70.3 414.8H72.8"/>
<path d="M70.3 385.5H72.8"/>
<path d="M70.3 356.1H72.8"/>
<path d="M70.3 326.7H72.8"/>
<path d="M70.3 297.3H72.8"/>
<path d="M72.8 503V507.5"/>
<path d="M122.3 503V507.5"/>
<path d="M171.8 503V507.5"/>
<path d="M221.3 503V507.5"/>
<path d="M270.9 503V507.5"/>
<path d="M320.4 503V507.5"/>
<path d="M369.9 503V507.5"/>
<path d="M97.6 503V505.5"/>
<path d="M147.1 503V505.5"/>
<path d="M196.6 503V505.5"/>
<path d="M246.1 503V505.5"/>
<path d="M295.6 503V505.5"/>
<path d="M345.1 503V505.5"/>
</g>
<polyline points="73,294.3 75.3,294.4 77.7,295.8 80,297 82.7,297.6 85.3,297.7 88,297 90.3,298.2 92.7,298.3 95,298.5 97,295.5 100,297.5 102.2,298.1 104.4,298.6 106.7,297.3 108.9,296.9 111.1,297.7 113.3,296.7 115.6,296.2 117.8,296.1 120,297 122.2,297.3 124.4,298.4 126.7,297.2 128.9,298.6 131.1,298.2 133.3,299 135.6,299.2 137.8,297.9 140,298.5 142.4,297.2 144.9,296.1 147.3,296.9 149.7,297.9 152.2,298.4 154.6,298.7 157.3,300.4 160.1,301 161.9,328.9 165,334 167.6,336.3 170.2,338.9 173.4,339 176.6,337.1 180.2,334.4 183,337 186.6,332 188,337 190.3,338 193.5,337.9 196.7,336.2 199.1,337.3 201.6,339.3 204,340.8 206.8,341.8 209.5,343.5 212.2,343.6 214.9,343.9 217.7,344.7 220.4,344.4 222.7,346.9 225,347.2 226.8,321.6 229.6,317.9 231.4,300.5 233.8,300.6 236.3,300.4 238.7,298.7 243,296.8 245.4,297 247.9,296.6 250.3,296.7 252.7,295.6 255.1,296.4 257.6,297 260,296 262.2,296.5 264.4,296.8 266.7,295.7 268.9,295.3 271.1,296.4 273.3,296 275.6,296.2 277.8,297 280,297 282.2,297.8 284.4,297.6 286.7,297.1 288.9,296.3 291.1,296.4 293.3,296.6 295.6,297.5 297.8,298.3 300,298 302.4,297.6 304.8,298.9 307.2,298.1 309.6,298.6 312,298.6 314.4,298.7 316.8,298.3 319.2,298.4 321.6,298.3" fill="none" stroke="#2b2b2b" stroke-width="1.5" stroke-linejoin="round"/>
<polyline points="73,340.7 75.4,341.1 77.9,340.5 80.3,342.1 82.7,342.6 85.1,341.9 87.6,342.3 90,342 92.2,341.4 94.4,341.5 96.7,342.5 98.9,341.9 101.1,343.4 103.3,342 105.6,341.9 107.8,341.7 110,343 112.2,342.6 114.4,342.4 116.7,341.9 118.9,342.3 121.1,341.7 123.3,341 125.6,341.1 127.8,340.7 130,341 132.3,341.7 134.6,342.2 136.8,342.5 139.1,343.3 141.4,342.7 143.7,342.8 145.9,343.1 148.2,343.4 150.5,344 153.2,366 155.5,367 157.7,369.6 160,372 162.5,373 165,373.5 167.5,376.1 170,376.3 172.5,378.5 175,380 177.8,379.7 180.6,380.8 183.4,382.8 185.8,381.5 188.1,382.6 190.5,383 192.9,382.2 195.3,382.5 197.6,382.1 200,382 202.7,382.5 205.3,381.2 208,381 210.3,382.1 212.7,382.6 215,381.6 217.3,381.8 219.6,382.1 221.9,383.2 224.3,385.3 226.6,385 227.5,343 231,341 233.4,340.4 235.8,341.1 238.1,341.4 240.5,341.5 242.9,341.5 245.2,340 247.6,339.5 250,340.3 252.3,340.9 254.5,341.3 256.8,340.5 259.1,341.2 261.4,339.7 263.6,341.1 265.9,341.3 268.2,340.2 270.5,339.2 272.7,340 275,340.5 277.3,339.9 279.5,339.1 281.8,339.3 284.1,340.6 286.4,339.3 288.6,340.8 290.9,339.7 293.2,339.3 295.5,338.9 297.7,340.7 300,340 302.4,339.9 304.8,339 307.2,339.9 309.6,340.6 312,338.9 314.4,339.6 316.8,340.3 319.2,339.6 321.6,339.4" fill="none" stroke="#d84040" stroke-width="1.5" stroke-linejoin="round"/>
<polyline points="73,374 75.7,374.5 78.3,376.5 81,377.7 83.3,377.9 85.6,377.8 87.9,377.3 90.2,377.6 92.6,377.5 94.9,376.2 97.2,376.9 99.5,377.2 101.8,377 104.1,377.7 106.4,377.5 108.7,376.6 111,375.9 113.3,375.4 115.7,376.7 118,376.8 120.3,376.6 122.6,376.1 124.9,376 127.4,374.7 129.9,374.6 132.4,373.2 135,373.4 137.5,373 140,372 142.6,371.1 145.2,370 147.9,369.8 150.5,370 154,367 156,370 157,395 159.6,399 162.2,400.5 164.8,403.3 167.4,403.8 170,406 172.5,407.4 175,409.1 177.5,410.1 180,411.7 182.5,413 185,413 187.5,413.2 190,412.9 192.5,412.2 195,411.3 197.5,411.9 200,410.5 202.6,411.7 205.1,413.1 207.7,413.8 210.2,413.9 212.8,414.8 215,414.5 217.3,414.5 219.5,413.3 221.7,412.3 223.9,412.5 226.2,411.1 228.4,410 230.2,379.1 232.4,379.9 234.6,380.1 236.8,378.4 239,377.6 241.2,379 243.4,379.4 245.6,378.3 247.8,377.6 250,378 252.4,378.6 254.8,376.7 257.2,376.4 259.6,376.4 262,375.1 264.4,374.8 266.8,373.8 269.2,373.9 271.6,373.1 274,373.3 276.5,374.1 278.9,375 281.4,377.3 283.7,375.8 286,376 288.2,375.6 290.5,376.1 292.8,375.3 295.1,374.4 297.4,373.8 299.7,373.5 301.9,374.2 304.2,372.9 306.5,372.8 308.8,372.7 311.4,373.7 313.9,373.1 316.5,373.9 319,373.7 321.6,373.3" fill="none" stroke="#4040c0" stroke-width="1.5" stroke-linejoin="round"/>
<polyline points="73,415.7 75.3,417.1 77.6,416.5 79.9,417.2 82.2,417.6 84.6,416.8 86.9,416.5 89.2,417.8 91.5,417.3 93.8,418.5 96.1,418.3 98.4,417.7 100.7,415.2 103,414.8 105.3,413.8 107.5,415.2 109.8,413.8 112,413.8 114.3,413.5 116.6,413.4 118.8,414.2 121.1,413.7 123.4,414 125.6,414.8 127.9,415 130.1,414.3 132.4,414.9 134.7,414.6 136.9,415.1 139.2,413.9 141.5,413.8 143.7,414.2 146,415.1 148.2,414.6 150.5,414 152,420 155,427.6 157.3,427.3 159.5,427.3 161.8,427.3 164.1,429.1 166.4,429.6 168.6,429.8 170.9,429.2 173.2,429.6 175.5,428.9 177.7,429.2 180,429.5 182.2,429.2 184.4,429.2 186.7,428.9 188.9,430.8 191.1,429.6 193.3,431 195.6,431.2 197.8,430.1 200,431 202.5,432.8 205,433.9 207.5,433.8 210,434 212.4,434.7 214.9,433.7 217.3,434 219.8,434.2 222.2,433.8 224.7,434 228.4,414.8 230.7,414.8 233.1,415.2 235.4,413.8 237.7,414.2 240,413.3 242.4,414.4 244.7,415.1 247,414.6 249.3,414.4 251.7,414.4 254,414 256.2,414 258.4,414.9 260.6,415.5 262.8,415.4 265,415.9 267.2,416 269.4,416.8 271.6,417.6 273.8,417.3 276,418 278.3,418.7 280.7,417.9 283,418.5 285.4,417.1 287.7,417.8 290.1,416.3 292.4,416.1 294.7,416.9 297.1,415.2 299.4,415.9 301.8,416.5 304.1,416.6 306.5,416 308.8,415 311.4,415.1 313.9,416.2 316.5,415.6 319,415.7 321.6,417.5" fill="none" stroke="#3a9a98" stroke-width="1.5" stroke-linejoin="round"/>
<polyline points="73,461 74.7,461.5 76.4,461.6 78.1,461.6 79.8,461.1 81.4,461.1 83.1,461.5 84.8,461.8 86.5,461.1 88.2,461.1 89.9,461.9 91.6,461.4 93.2,461.8 94.9,461.7 96.6,462 98.3,462.3 100,462 101.7,461.9 103.3,461.7 105,461.9 106.7,461.9 108.3,461.7 110,461.6 111.7,461.6 113.3,461.3 115,461.1 116.7,461.4 118.3,461 120,461.3 121.7,461.6 123.3,461.6 125,461 126.7,461 128.3,461.4 130,461 131.7,461.5 133.4,461 135.1,461.5 136.8,460.9 138.5,461.4 140.2,461.7 141.9,461.6 143.6,461.7 145.3,462.1 147,462.3 148.7,461.6 150.4,461.8 153.8,448 155.5,448.2 157.1,449.1 158.8,449.6 160.4,450.2 162.1,451.4 163.7,451.6 165.3,452.3 167,453.4 168.7,453.3 170.3,452.8 172,452.3 173.7,452.6 175.3,452.6 177,452.4 178.7,452.1 180.3,451.9 182,451.8 183.7,451.3 185.3,451.5 187,451 188.8,451.9 190.5,452.5 192.2,453 194,453 195.6,453 197.2,453.1 198.8,452.9 200.5,452.3 202.1,452.9 203.7,452.3 205.3,452.4 206.9,452.3 208.5,451.9 210.2,452.2 211.8,452.2 213.4,452.4 215,452 216.7,451.9 218.3,452 220,452.5 221.7,452.3 223.3,452.4 225,452 227,449 229.6,447.7 231,450 233.5,462.2 235.1,461.9 236.8,461.9 238.4,461.8 240.1,461.9 241.7,462 243.4,462 245,462.6 246.7,462.1 248.3,462.1 250,462 251.6,462.4 253.2,462.3 254.9,462.6 256.5,462.4 258.2,462.3 259.8,462.6 261.5,462.3 263.1,463 264.8,463 266.4,462.8 268.1,462.9 269.7,463.4 271.4,463.1 273,463 274.7,462.8 276.4,462.9 278.1,463.4 279.9,463.4 281.6,463.1 283.3,463.7 285,463.2 286.7,463.5 288.3,463.5 289.9,463.5 291.5,463 293.1,462.2 294.7,462.3 296.4,462.1 298,461.5 299.6,461.5 301.2,461.8 302.8,461 304.4,460.7 306,460.9 307.7,461.1 309.4,460.8 311.2,461.1 312.9,461.2 314.6,460.5 316.3,460.8 318.1,460.5 319.8,461.2 321.5,461" fill="none" stroke="#e040e0" stroke-width="1.5" stroke-linejoin="round"/>
<polyline points="73,482.7 74.7,483 76.4,482.6 78.1,482.8 79.8,483.1 81.4,482.5 83.1,482.7 84.8,482.3 86.5,482 88.2,482 89.9,482.4 91.6,481.9 93.2,482.2 94.9,482 96.6,481.7 98.3,481.9 100,482 101.7,481.9 103.3,482.4 105,482.5 106.6,481.9 108.3,482.5 109.9,482.2 111.6,482.5 113.2,482.5 114.9,482.2 116.5,481.8 118.2,482.4 119.8,482.6 121.5,482.3 123.1,481.7 124.8,482.2 126.5,482.3 128.1,482.5 129.8,482.6 131.4,482.7 133.1,482.4 134.7,482 136.4,482 138,482 139.7,482.3 141.3,482.2 143,482.4 144.6,482.1 146.3,482.1 147.9,482.5 149.6,482 153.8,464.8 155.5,466.3 157.1,467 158.8,467.2 160.5,468.2 162.1,469 163.8,470.2 165.5,468.9 167.2,467.9 168.9,467.4 170.5,467 172.2,466.3 173.9,465 175.7,465.9 177.5,465.8 179.4,466.4 181.2,466.8 183,468 184.8,467.1 186.5,466.7 188.2,465.8 190,465 191.7,465.7 193.5,465.9 195.2,465.6 196.9,466.3 198.6,466.5 200.4,467.3 202.1,467.1 203.8,467.3 205.5,468.2 207.3,468.2 209,468.5 210.6,468.3 212.2,468.3 213.8,467.6 215.4,466.8 217,467 218.6,466.3 220.2,465.8 221.8,465.2 223.4,465.6 225,465 226.6,464.6 228.2,464.7 229.8,465.1 231.4,465.5 233,465 236,461 238.3,459.3 240.5,462 242.2,466.1 244,470 246,472.6 247.9,474.5 249.9,476.5 251.9,478.7 253.5,478.5 255.1,479.3 256.8,479.8 258.4,479.9 260,480 261.7,480.3 263.3,480.6 265,480.8 266.7,480.9 268.3,480.9 270,480.7 271.7,480.7 273.4,480.6 275,481.2 276.7,481.1 278.4,481.6 280,481.3 281.7,481.3 283.4,481.2 285,481.5 286.7,482 288.4,482.4 290,482.5 291.7,481.7 293.3,482.1 295,482.1 296.6,481.9 298.3,482.4 300,482.3 301.6,481.9 303.3,482.3 304.9,482 306.6,482 308.2,482 309.9,482 311.6,481.5 313.2,482.2 314.9,481.9 316.5,481.9 318.2,481.6 319.8,482 321.5,482" fill="none" stroke="#b4b44a" stroke-width="1.5" stroke-linejoin="round"/>
<polyline points="73,495.8 74.6,496 76.3,496.3 77.9,495.5 79.5,496.1 81.1,496.2 82.8,495.5 84.4,496 86,496.2 87.7,495.6 89.3,496.2 90.9,495.8 92.6,495.7 94.2,495.9 95.8,496 97.4,496.1 99.1,495.7 100.7,495.7 102.3,495.4 104,495.5 105.6,495.7 107.2,495.3 108.9,495.5 110.5,496 112.1,495.5 113.7,495.7 115.4,495.3 117,495.9 118.6,495.4 120.3,495.4 121.9,495.9 123.5,495.8 125.2,495.8 126.8,495.9 128.4,495.8 130,495.7 131.7,495.4 133.3,495.3 134.9,495.4 136.6,495.4 138.2,495.5 139.8,496.1 141.5,495.6 143.1,495.4 144.7,495.4 146.3,495.3 148,496 149.6,495.8 153,486 154.6,486.5 156.2,486.8 157.9,486.5 159.5,486.4 161.1,486.4 162.8,486.7 164.4,486.4 166,486.7 167.6,486.7 169.2,487.1 170.9,487.4 172.5,487.4 174.1,486.9 175.8,487.3 177.4,487.6 179,487.5 182,483.9 183.6,483.4 185.3,483.8 186.9,484.1 188.5,484 190.2,484.2 191.8,484.1 193.5,484.3 195.1,483.8 196.7,484.3 198.4,484.3 200,484 201.7,483.7 203.3,483.8 205,484.4 206.7,484.5 208.3,484 210,484.5 211.7,484.3 213.3,484.9 215,484.5 216.7,484.2 218.3,484.4 220,484.7 221.7,484.8 223.3,484.9 225,485 226.7,483.8 228.5,482.6 230.2,482.6 231.9,481.5 233.7,480.3 235.4,479.6 237.1,482.9 238.9,485.7 240.6,488.9 242.4,492.7 244.1,496 245.7,496.2 247.3,496.4 248.9,495.9 250.5,496.2 252.2,496.4 253.8,496.4 255.4,496.2 257,496.3 258.6,495.6 260.2,495.6 261.8,496 263.4,496 265.1,496.1 266.7,496 268.3,495.5 269.9,495.7 271.5,495.6 273.1,496 274.7,495.8 276.4,496.2 278,496.1 279.6,495.9 281.2,496.1 282.8,496.4 284.4,496 286,495.5 287.6,496.2 289.2,495.9 290.9,496.3 292.5,496.1 294.1,495.9 295.7,496.3 297.3,495.7 298.9,496.3 300.5,495.9 302.1,496.2 303.8,496.5 305.4,496.5 307,496 308.6,496.5 310.2,496.2 311.8,495.8 313.4,495.8 315.1,495.5 316.7,496 318.3,495.9 319.9,496 321.5,496" fill="none" stroke="#4040a8" stroke-width="1.5" stroke-linejoin="round"/>
<rect x="72.8" y="282.6" width="297.1" height="220.4" fill="none" stroke="#555" stroke-width="1.3"/>
<path d="M332.5 295V493" stroke="#222" stroke-width="1.1"/>
<path d="M330.4 492L334.6 492L332.5 499z" fill="#222"/>
<text x="334.3" y="302.8" font-family="Liberation Sans" font-size="13.5" font-weight="normal" text-anchor="start" fill="#222" textLength="22" lengthAdjust="spacingAndGlyphs">150</text>
<text x="334.3" y="420.3" font-family="Liberation Sans" font-size="13.5" font-weight="normal" text-anchor="start" fill="#222" textLength="22" lengthAdjust="spacingAndGlyphs">300</text>
<text x="335.2" y="499.6" font-family="Liberation Sans" font-size="13.5" font-weight="normal" text-anchor="start" fill="#222" textLength="21" lengthAdjust="spacingAndGlyphs">450</text>
<text x="357.6" y="302.8" font-family="Liberation Sans" font-size="12.5" font-weight="normal" text-anchor="start" fill="#444" textLength="12" lengthAdjust="spacingAndGlyphs">&#176;C</text>
<text x="357.6" y="420.3" font-family="Liberation Sans" font-size="12.5" font-weight="normal" text-anchor="start" fill="#444" textLength="12" lengthAdjust="spacingAndGlyphs">&#176;C</text>
<text x="357.6" y="499.6" font-family="Liberation Sans" font-size="12.5" font-weight="normal" text-anchor="start" fill="#444" textLength="12" lengthAdjust="spacingAndGlyphs">&#176;C</text>
<text x="64.6" y="491.8" font-family="Liberation Sans" font-size="9.7" font-weight="bold" text-anchor="end" fill="#1a1a1a"  stroke="#1a1a1a" stroke-width="0.3">20</text>
<text x="64.6" y="462.4" font-family="Liberation Sans" font-size="9.7" font-weight="bold" text-anchor="end" fill="#1a1a1a"  stroke="#1a1a1a" stroke-width="0.3">40</text>
<text x="64.6" y="433" font-family="Liberation Sans" font-size="9.7" font-weight="bold" text-anchor="end" fill="#1a1a1a"  stroke="#1a1a1a" stroke-width="0.3">60</text>
<text x="64.6" y="403.6" font-family="Liberation Sans" font-size="9.7" font-weight="bold" text-anchor="end" fill="#1a1a1a"  stroke="#1a1a1a" stroke-width="0.3">80</text>
<text x="64.6" y="374.3" font-family="Liberation Sans" font-size="9.7" font-weight="bold" text-anchor="end" fill="#1a1a1a"  stroke="#1a1a1a" stroke-width="0.3">100</text>
<text x="64.6" y="344.9" font-family="Liberation Sans" font-size="9.7" font-weight="bold" text-anchor="end" fill="#1a1a1a"  stroke="#1a1a1a" stroke-width="0.3">120</text>
<text x="64.6" y="315.5" font-family="Liberation Sans" font-size="9.7" font-weight="bold" text-anchor="end" fill="#1a1a1a"  stroke="#1a1a1a" stroke-width="0.3">140</text>
<text x="64.6" y="286.1" font-family="Liberation Sans" font-size="9.7" font-weight="bold" text-anchor="end" fill="#1a1a1a"  stroke="#1a1a1a" stroke-width="0.3">160</text>
<text x="72.8" y="518.5" font-family="Liberation Sans" font-size="9.7" font-weight="bold" text-anchor="middle" fill="#1a1a1a"  stroke="#1a1a1a" stroke-width="0.3">0</text>
<text x="122.3" y="518.5" font-family="Liberation Sans" font-size="9.7" font-weight="bold" text-anchor="middle" fill="#1a1a1a"  stroke="#1a1a1a" stroke-width="0.3">40</text>
<text x="171.8" y="518.5" font-family="Liberation Sans" font-size="9.7" font-weight="bold" text-anchor="middle" fill="#1a1a1a"  stroke="#1a1a1a" stroke-width="0.3">80</text>
<text x="221.3" y="518.5" font-family="Liberation Sans" font-size="9.7" font-weight="bold" text-anchor="middle" fill="#1a1a1a"  stroke="#1a1a1a" stroke-width="0.3">120</text>
<text x="270.9" y="518.5" font-family="Liberation Sans" font-size="9.7" font-weight="bold" text-anchor="middle" fill="#1a1a1a"  stroke="#1a1a1a" stroke-width="0.3">160</text>
<text x="320.4" y="518.5" font-family="Liberation Sans" font-size="9.7" font-weight="bold" text-anchor="middle" fill="#1a1a1a"  stroke="#1a1a1a" stroke-width="0.3">200</text>
<text x="369.9" y="518.5" font-family="Liberation Sans" font-size="9.7" font-weight="bold" text-anchor="middle" fill="#1a1a1a"  stroke="#1a1a1a" stroke-width="0.3">240</text>
<text x="0" y="0" font-family="Liberation Sans" font-size="11.3" font-weight="bold" text-anchor="middle" fill="#1a1a1a" transform="translate(36.6 391.7) rotate(-90)" textLength="92.4" lengthAdjust="spacingAndGlyphs" stroke="#1a1a1a" stroke-width="0.3">Resistance (K&#937;)</text>
<text x="194.2" y="538.3" font-family="Liberation Sans" font-size="11.7" font-weight="bold" text-anchor="start" fill="#1a1a1a" textLength="27.8" lengthAdjust="spacingAndGlyphs" stroke="#1a1a1a" stroke-width="0.3">Time</text>
<text x="226.6" y="538.6" font-family="Liberation Sans" font-size="12.5" font-weight="normal" text-anchor="start" fill="#444" >(</text>
<text x="234.9" y="538.3" font-family="Liberation Sans" font-size="11.7" font-weight="bold" text-anchor="start" fill="#1a1a1a"  stroke="#1a1a1a" stroke-width="0.3">s</text>
<text x="243.4" y="538.6" font-family="Liberation Sans" font-size="12.5" font-weight="normal" text-anchor="start" fill="#444" >)</text>
<text x="5.2" y="292.6" font-family="Liberation Serif" font-size="18" font-weight="bold" text-anchor="start" fill="#111" >(c)</text>
<g stroke="#777" stroke-width="1.2" fill="none">
<path d="M462.4 282.2H466.9"/>
<path d="M462.4 338H466.9"/>
<path d="M462.4 393.8H466.9"/>
<path d="M462.4 449.6H466.9"/>
<path d="M462.4 505.4H466.9"/>
<path d="M464.4 310.1H466.9"/>
<path d="M464.4 365.9H466.9"/>
<path d="M464.4 421.7H466.9"/>
<path d="M464.4 477.5H466.9"/>
<path d="M466.9 505.4V508.4"/>
<path d="M504.5 505.4V508.4"/>
<path d="M542.1 505.4V508.4"/>
<path d="M579.7 505.4V508.4"/>
<path d="M617.2 505.4V508.4"/>
<path d="M654.8 505.4V508.4"/>
<path d="M692.4 505.4V508.4"/>
<path d="M730 505.4V508.4"/>
</g>
<path d="M470.9 393.8H754.7" stroke="#555" stroke-width="1.4" stroke-dasharray="3.9 3.83"/>
<rect x="466.9" y="282.2" width="300.7" height="223.2" fill="none" stroke="#7a7a7a" stroke-width="1.5"/>
<polyline points="504.5,326.8 542.1,315.7 579.7,296.1 617.2,346.4 654.8,435.6 692.4,480.3 730,488.7" fill="none" stroke="#222" stroke-width="1.1" />
<rect x="502.2" y="324.6" width="4.5" height="4.5" fill="#0a0a0a"/>
<rect x="539.8" y="313.4" width="4.5" height="4.5" fill="#0a0a0a"/>
<rect x="577.4" y="293.9" width="4.5" height="4.5" fill="#0a0a0a"/>
<rect x="615" y="344.1" width="4.5" height="4.5" fill="#0a0a0a"/>
<rect x="652.6" y="433.4" width="4.5" height="4.5" fill="#0a0a0a"/>
<rect x="690.2" y="478" width="4.5" height="4.5" fill="#0a0a0a"/>
<rect x="727.8" y="486.4" width="4.5" height="4.5" fill="#0a0a0a"/>
<text x="459" y="285.8" font-family="Liberation Sans" font-size="10" font-weight="bold" text-anchor="end" fill="#2a2a2a"  stroke="#2a2a2a" stroke-width="0.3">0.4</text>
<text x="459" y="341.6" font-family="Liberation Sans" font-size="10" font-weight="bold" text-anchor="end" fill="#2a2a2a"  stroke="#2a2a2a" stroke-width="0.3">0.2</text>
<text x="459" y="397.4" font-family="Liberation Sans" font-size="10" font-weight="bold" text-anchor="end" fill="#2a2a2a"  stroke="#2a2a2a" stroke-width="0.3">0.0</text>
<text x="459" y="453.2" font-family="Liberation Sans" font-size="10" font-weight="bold" text-anchor="end" fill="#2a2a2a"  stroke="#2a2a2a" stroke-width="0.3">-0.2</text>
<text x="459" y="509" font-family="Liberation Sans" font-size="10" font-weight="bold" text-anchor="end" fill="#2a2a2a"  stroke="#2a2a2a" stroke-width="0.3">-0.4</text>
<text x="466.9" y="521" font-family="Liberation Sans" font-size="10" font-weight="bold" text-anchor="middle" fill="#2a2a2a"  stroke="#2a2a2a" stroke-width="0.3">0</text>
<text x="504.5" y="520.9" font-family="Liberation Sans" font-size="12.3" font-weight="normal" text-anchor="middle" fill="#333" textLength="21" lengthAdjust="spacingAndGlyphs">150</text>
<text x="542.1" y="520.9" font-family="Liberation Sans" font-size="12.3" font-weight="normal" text-anchor="middle" fill="#333" textLength="21" lengthAdjust="spacingAndGlyphs">200</text>
<text x="579.7" y="520.9" font-family="Liberation Sans" font-size="12.3" font-weight="normal" text-anchor="middle" fill="#333" textLength="21" lengthAdjust="spacingAndGlyphs">250</text>
<text x="617.2" y="520.9" font-family="Liberation Sans" font-size="12.3" font-weight="normal" text-anchor="middle" fill="#333" textLength="21" lengthAdjust="spacingAndGlyphs">300</text>
<text x="654.8" y="520.9" font-family="Liberation Sans" font-size="12.3" font-weight="normal" text-anchor="middle" fill="#333" textLength="21" lengthAdjust="spacingAndGlyphs">350</text>
<text x="692.4" y="520.9" font-family="Liberation Sans" font-size="12.3" font-weight="normal" text-anchor="middle" fill="#333" textLength="21" lengthAdjust="spacingAndGlyphs">400</text>
<text x="730" y="520.9" font-family="Liberation Sans" font-size="12.3" font-weight="normal" text-anchor="middle" fill="#333" textLength="21" lengthAdjust="spacingAndGlyphs">450</text>
<text x="0" y="0" font-family="Liberation Sans" font-size="14.5" font-weight="normal" text-anchor="middle" fill="#1a1a1a" transform="translate(426.6 396) rotate(-90)" textLength="68" lengthAdjust="spacingAndGlyphs">Response</text>
<text x="543.5" y="354.5" font-family="Liberation Sans" font-size="16.5" font-weight="normal" text-anchor="start" fill="#222" textLength="40.6" lengthAdjust="spacingAndGlyphs">n-type</text>
<text x="694.1" y="440.5" font-family="Liberation Sans" font-size="16.5" font-weight="normal" text-anchor="start" fill="#222" textLength="40.2" lengthAdjust="spacingAndGlyphs">p-type</text>
<text x="567" y="539.9" font-family="Liberation Sans" font-size="11.5" font-weight="bold" text-anchor="start" fill="#1a1a1a" textLength="73.4" lengthAdjust="spacingAndGlyphs" stroke="#1a1a1a" stroke-width="0.3">Temperature</text>
<text x="644" y="538.6" font-family="Liberation Sans" font-size="13" font-weight="normal" text-anchor="start" fill="#444" >(</text>
<text x="648.4" y="539.6" font-family="Liberation Sans" font-size="9" font-weight="normal" text-anchor="start" fill="#333" >&#176;</text>
<text x="651.4" y="539.9" font-family="Liberation Sans" font-size="11" font-weight="normal" text-anchor="start" fill="#333" textLength="8.4" lengthAdjust="spacingAndGlyphs">C</text>
<text x="661.9" y="538.6" font-family="Liberation Sans" font-size="13" font-weight="normal" text-anchor="start" fill="#444" >)</text>
<text x="399.7" y="292.6" font-family="Liberation Serif" font-size="18" font-weight="bold" text-anchor="start" fill="#111" >(d)</text>
</svg>
</body></html>
